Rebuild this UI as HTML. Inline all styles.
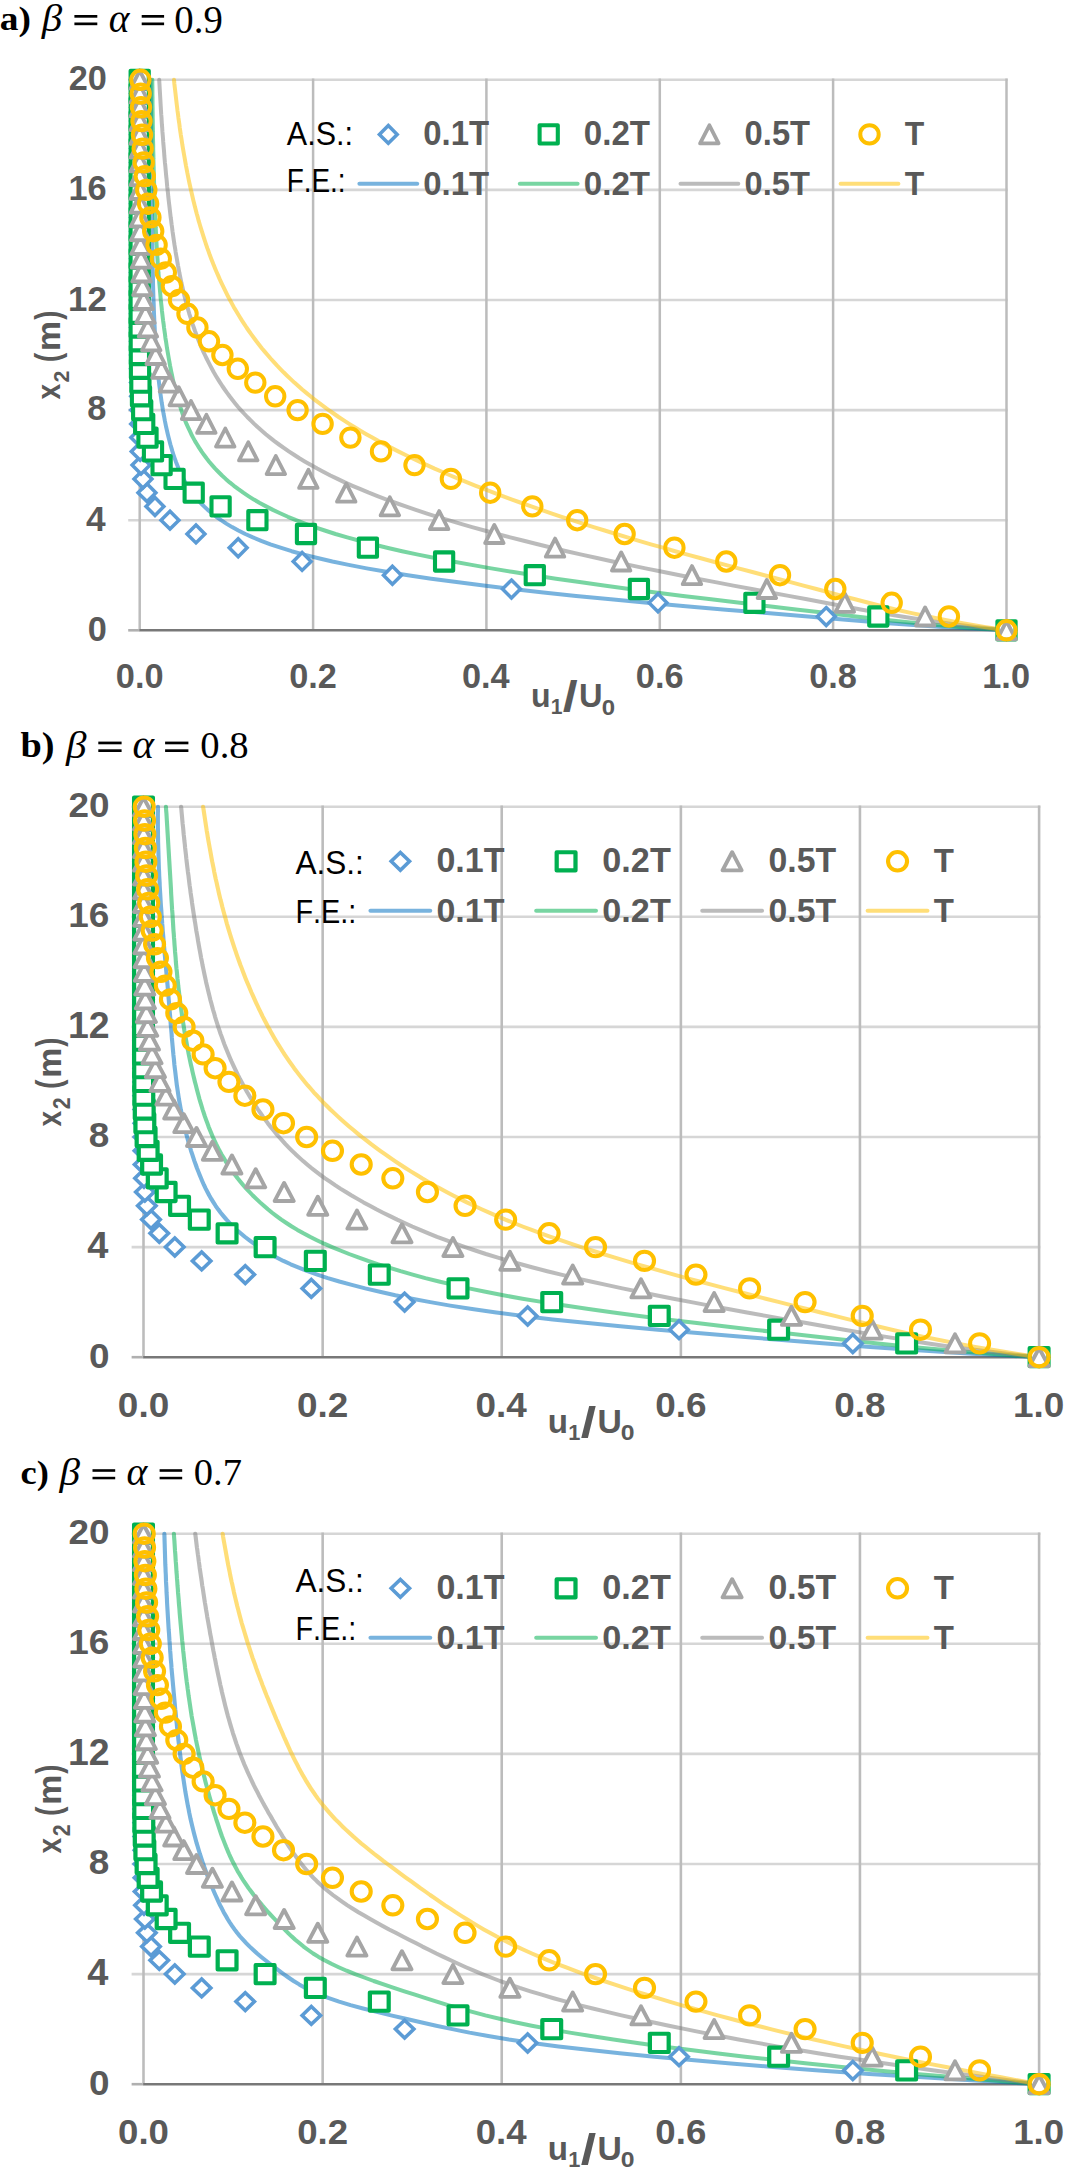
<!DOCTYPE html>
<html><head><meta charset="utf-8"><style>
html,body{margin:0;padding:0;background:#fff;}
body{width:1065px;height:2178px;overflow:hidden;}
svg{display:block;}
</style></head><body>
<svg width="1065" height="2178" viewBox="0 0 1065 2178">
<rect width="1065" height="2178" fill="#fff"/>
<g transform="translate(0.000,0.00) scale(1.00000,1)">
<line x1="128.2" y1="520.2" x2="1007.7" y2="520.2" stroke="#d6d6d6" stroke-width="2.6"/>
<line x1="128.2" y1="410.1" x2="1007.7" y2="410.1" stroke="#d6d6d6" stroke-width="2.6"/>
<line x1="128.2" y1="300.0" x2="1007.7" y2="300.0" stroke="#d6d6d6" stroke-width="2.6"/>
<line x1="128.2" y1="189.9" x2="1007.7" y2="189.9" stroke="#d6d6d6" stroke-width="2.6"/>
<line x1="128.2" y1="79.8" x2="1007.7" y2="79.8" stroke="#d6d6d6" stroke-width="2.6"/>
<line x1="128.2" y1="630.3" x2="139.7" y2="630.3" stroke="#b0b0b0" stroke-width="2.6"/>
<line x1="139.7" y1="78.5" x2="139.7" y2="630.3" stroke="#bcbcbc" stroke-width="2.5"/>
<line x1="313.1" y1="78.5" x2="313.1" y2="630.3" stroke="#bcbcbc" stroke-width="2.5"/>
<line x1="486.4" y1="78.5" x2="486.4" y2="630.3" stroke="#bcbcbc" stroke-width="2.5"/>
<line x1="659.8" y1="78.5" x2="659.8" y2="630.3" stroke="#bcbcbc" stroke-width="2.5"/>
<line x1="833.1" y1="78.5" x2="833.1" y2="630.3" stroke="#bcbcbc" stroke-width="2.5"/>
<line x1="1006.5" y1="78.5" x2="1006.5" y2="630.3" stroke="#bcbcbc" stroke-width="2.5"/>
<line x1="139.4" y1="630.3" x2="1007.7" y2="630.3" stroke="#787878" stroke-width="2.6"/>
<path d="M1006.5 630.3 L942.4 626.9 L891.9 623.4 L848.8 620.0 L808.0 616.5 L766.9 613.1 L725.9 609.7 L685.8 606.2 L647.3 602.8 L610.8 599.3 L576.1 595.9 L543.4 592.5 L512.6 589.0 L483.6 585.6 L456.5 582.1 L431.3 578.7 L407.9 575.2 L386.4 571.8 L366.7 568.4 L348.7 564.9 L332.4 561.5 L317.5 558.0 L304.0 554.6 L291.7 551.2 L280.5 547.7 L270.4 544.3 L261.2 540.8 L252.9 537.4 L245.3 534.0 L238.4 530.5 L232.1 527.1 L226.3 523.6 L221.1 520.2 L216.3 516.8 L211.9 513.3 L207.8 509.9 L204.1 506.4 L200.7 503.0 L197.6 499.6 L194.7 496.1 L192.1 492.7 L189.7 489.2 L187.4 485.8 L185.4 482.4 L183.5 478.9 L181.7 475.5 L180.1 472.0 L178.6 468.6 L177.2 465.1 L175.9 461.7 L174.7 458.3 L173.5 454.8 L172.4 451.4 L171.4 447.9 L170.4 444.5 L169.5 441.1 L168.6 437.6 L167.8 434.2 L167.0 430.7 L166.2 427.3 L165.5 423.9 L164.8 420.4 L164.2 417.0 L163.5 413.5 L162.9 410.1 L162.4 406.7 L161.8 403.2 L161.3 399.8 L160.8 396.3 L160.3 392.9 L159.9 389.5 L159.4 386.0 L159.0 382.6 L158.6 379.1 L158.3 375.7 L157.9 372.3 L157.6 368.8 L157.3 365.4 L157.0 361.9 L156.7 358.5 L156.4 355.0 L156.1 351.6 L155.9 348.2 L155.7 344.7 L155.4 341.3 L155.2 337.8 L155.0 334.4 L154.8 331.0 L154.7 327.5 L154.5 324.1 L154.3 320.6 L154.2 317.2 L154.0 313.8 L153.9 310.3 L153.8 306.9 L153.7 303.4 L153.5 300.0 L153.4 296.6 L153.3 293.1 L153.2 289.7 L153.1 286.2 L153.0 282.8 L153.0 279.4 L152.9 275.9 L152.8 272.5 L152.7 269.0 L152.7 265.6 L152.6 262.2 L152.5 258.7 L152.5 255.3 L152.4 251.8 L152.4 248.4 L152.3 244.9 L152.3 241.5 L152.3 238.1 L152.2 234.6 L152.2 231.2 L152.1 227.7 L152.1 224.3 L152.1 220.9 L152.0 217.4 L152.0 214.0 L152.0 210.5 L152.0 207.1 L151.9 203.7 L151.9 200.2 L151.9 196.8 L151.8 193.3 L151.8 189.9 L151.8 186.5 L151.8 183.0 L151.8 179.6 L151.7 176.1 L151.7 172.7 L151.7 169.3 L151.7 165.8 L151.6 162.4 L151.6 158.9 L151.6 155.5 L151.5 152.1 L151.5 148.6 L151.5 145.2 L151.4 141.7 L151.4 138.3 L151.4 134.8 L151.3 131.4 L151.3 128.0 L151.3 124.5 L151.2 121.1 L151.2 117.6 L151.1 114.2 L151.1 110.8 L151.0 107.3 L151.0 103.9 L150.9 100.4 L150.8 97.0 L150.8 93.6 L150.7 90.1 L150.6 86.7 L150.6 83.2 L150.5 79.8" fill="none" stroke="#0070c0" stroke-opacity="0.53" stroke-width="4.0" stroke-linejoin="round" stroke-linecap="round"/>
<path d="M1006.5 630.3 L959.4 626.9 L920.2 623.4 L886.4 620.0 L855.9 616.5 L826.9 613.1 L798.1 609.7 L768.9 606.2 L739.9 602.8 L711.1 599.3 L683.0 595.9 L655.7 592.5 L629.3 589.0 L603.9 585.6 L579.5 582.1 L556.0 578.7 L533.5 575.2 L511.9 571.8 L491.3 568.4 L471.6 564.9 L452.8 561.5 L434.9 558.0 L418.1 554.6 L402.1 551.2 L387.0 547.7 L372.9 544.3 L359.6 540.8 L347.2 537.4 L335.5 534.0 L324.7 530.5 L314.5 527.1 L305.0 523.6 L296.1 520.2 L287.9 516.8 L280.1 513.3 L272.9 509.9 L266.1 506.4 L259.8 503.0 L253.9 499.6 L248.4 496.1 L243.3 492.7 L238.4 489.2 L233.9 485.8 L229.7 482.4 L225.7 478.9 L222.0 475.5 L218.5 472.0 L215.2 468.6 L212.1 465.1 L209.2 461.7 L206.5 458.3 L203.9 454.8 L201.5 451.4 L199.2 447.9 L197.1 444.5 L195.0 441.1 L193.1 437.6 L191.3 434.2 L189.7 430.7 L188.1 427.3 L186.5 423.9 L185.1 420.4 L183.8 417.0 L182.5 413.5 L181.3 410.1 L180.2 406.7 L179.1 403.2 L178.1 399.8 L177.1 396.3 L176.1 392.9 L175.3 389.5 L174.4 386.0 L173.6 382.6 L172.8 379.1 L172.1 375.7 L171.4 372.3 L170.7 368.8 L170.0 365.4 L169.4 361.9 L168.8 358.5 L168.2 355.0 L167.6 351.6 L167.0 348.2 L166.5 344.7 L166.0 341.3 L165.4 337.8 L165.0 334.4 L164.5 331.0 L164.0 327.5 L163.6 324.1 L163.1 320.6 L162.7 317.2 L162.3 313.8 L161.9 310.3 L161.6 306.9 L161.2 303.4 L160.8 300.0 L160.5 296.6 L160.2 293.1 L159.9 289.7 L159.6 286.2 L159.3 282.8 L159.0 279.4 L158.7 275.9 L158.4 272.5 L158.2 269.0 L157.9 265.6 L157.7 262.2 L157.5 258.7 L157.2 255.3 L157.0 251.8 L156.8 248.4 L156.6 244.9 L156.4 241.5 L156.2 238.1 L156.1 234.6 L155.9 231.2 L155.7 227.7 L155.6 224.3 L155.4 220.9 L155.3 217.4 L155.1 214.0 L155.0 210.5 L154.8 207.1 L154.7 203.7 L154.6 200.2 L154.5 196.8 L154.4 193.3 L154.3 189.9 L154.2 186.5 L154.1 183.0 L154.0 179.6 L153.9 176.1 L153.8 172.7 L153.7 169.3 L153.6 165.8 L153.5 162.4 L153.4 158.9 L153.4 155.5 L153.3 152.1 L153.2 148.6 L153.2 145.2 L153.1 141.7 L153.0 138.3 L153.0 134.8 L152.9 131.4 L152.9 128.0 L152.8 124.5 L152.8 121.1 L152.7 117.6 L152.7 114.2 L152.6 110.8 L152.6 107.3 L152.5 103.9 L152.5 100.4 L152.5 97.0 L152.4 93.6 L152.4 90.1 L152.4 86.7 L152.3 83.2 L152.3 79.8" fill="none" stroke="#00b050" stroke-opacity="0.53" stroke-width="4.0" stroke-linejoin="round" stroke-linecap="round"/>
<path d="M1006.5 630.3 L975.7 626.9 L948.4 623.4 L923.9 620.0 L901.7 616.5 L881.2 613.1 L862.0 609.7 L843.4 606.2 L825.2 602.8 L807.0 599.3 L788.6 595.9 L770.2 592.5 L751.8 589.0 L733.4 585.6 L715.3 582.1 L697.3 578.7 L679.7 575.2 L662.4 571.8 L645.5 568.4 L628.9 564.9 L612.7 561.5 L597.0 558.0 L581.6 554.6 L566.6 551.2 L551.9 547.7 L537.7 544.3 L523.8 540.8 L510.3 537.4 L497.2 534.0 L484.5 530.5 L472.1 527.1 L460.1 523.6 L448.4 520.2 L437.2 516.8 L426.3 513.3 L415.8 509.9 L405.7 506.4 L395.9 503.0 L386.6 499.6 L377.5 496.1 L368.8 492.7 L360.5 489.2 L352.5 485.8 L344.8 482.4 L337.5 478.9 L330.4 475.5 L323.7 472.0 L317.2 468.6 L311.0 465.1 L305.1 461.7 L299.4 458.3 L294.0 454.8 L288.8 451.4 L283.8 447.9 L279.0 444.5 L274.4 441.1 L270.0 437.6 L265.8 434.2 L261.8 430.7 L257.9 427.3 L254.2 423.9 L250.7 420.4 L247.3 417.0 L244.0 413.5 L240.9 410.1 L237.9 406.7 L235.0 403.2 L232.3 399.8 L229.6 396.3 L227.1 392.9 L224.7 389.5 L222.3 386.0 L220.1 382.6 L217.9 379.1 L215.8 375.7 L213.8 372.3 L211.9 368.8 L210.1 365.4 L208.3 361.9 L206.6 358.5 L204.9 355.0 L203.3 351.6 L201.8 348.2 L200.3 344.7 L198.9 341.3 L197.6 337.8 L196.3 334.4 L195.0 331.0 L193.8 327.5 L192.6 324.1 L191.5 320.6 L190.4 317.2 L189.3 313.8 L188.3 310.3 L187.4 306.9 L186.4 303.4 L185.5 300.0 L184.6 296.6 L183.8 293.1 L183.0 289.7 L182.2 286.2 L181.4 282.8 L180.7 279.4 L180.0 275.9 L179.3 272.5 L178.7 269.0 L178.0 265.6 L177.4 262.2 L176.8 258.7 L176.2 255.3 L175.6 251.8 L175.1 248.4 L174.5 244.9 L174.0 241.5 L173.5 238.1 L173.0 234.6 L172.5 231.2 L172.1 227.7 L171.6 224.3 L171.2 220.9 L170.7 217.4 L170.3 214.0 L169.9 210.5 L169.5 207.1 L169.1 203.7 L168.7 200.2 L168.3 196.8 L168.0 193.3 L167.6 189.9 L167.2 186.5 L166.9 183.0 L166.6 179.6 L166.2 176.1 L165.9 172.7 L165.6 169.3 L165.3 165.8 L164.9 162.4 L164.6 158.9 L164.3 155.5 L164.1 152.1 L163.8 148.6 L163.5 145.2 L163.2 141.7 L163.0 138.3 L162.7 134.8 L162.4 131.4 L162.2 128.0 L161.9 124.5 L161.7 121.1 L161.5 117.6 L161.2 114.2 L161.0 110.8 L160.8 107.3 L160.6 103.9 L160.4 100.4 L160.2 97.0 L160.0 93.6 L159.8 90.1 L159.6 86.7 L159.4 83.2 L159.2 79.8" fill="none" stroke="#7f7f7f" stroke-opacity="0.53" stroke-width="4.0" stroke-linejoin="round" stroke-linecap="round"/>
<path d="M1006.5 630.3 L984.4 626.9 L964.0 623.4 L945.3 620.0 L927.9 616.5 L911.8 613.1 L896.6 609.7 L882.2 606.2 L868.5 602.8 L855.1 599.3 L842.1 595.9 L829.3 592.5 L816.4 589.0 L803.5 585.6 L790.5 582.1 L777.5 578.7 L764.4 575.2 L751.4 571.8 L738.4 568.4 L725.5 564.9 L712.7 561.5 L700.0 558.0 L687.5 554.6 L675.1 551.2 L662.9 547.7 L650.9 544.3 L639.0 540.8 L627.4 537.4 L616.0 534.0 L604.7 530.5 L593.6 527.1 L582.8 523.6 L572.1 520.2 L561.6 516.8 L551.3 513.3 L541.2 509.9 L531.3 506.4 L521.6 503.0 L512.1 499.6 L502.7 496.1 L493.5 492.7 L484.6 489.2 L475.8 485.8 L467.2 482.4 L458.7 478.9 L450.5 475.5 L442.5 472.0 L434.6 468.6 L427.0 465.1 L419.5 461.7 L412.2 458.3 L405.1 454.8 L398.2 451.4 L391.4 447.9 L384.9 444.5 L378.5 441.1 L372.3 437.6 L366.3 434.2 L360.4 430.7 L354.7 427.3 L349.2 423.9 L343.8 420.4 L338.6 417.0 L333.6 413.5 L328.7 410.1 L324.0 406.7 L319.3 403.2 L314.9 399.8 L310.5 396.3 L306.3 392.9 L302.2 389.5 L298.3 386.0 L294.4 382.6 L290.7 379.1 L287.1 375.7 L283.6 372.3 L280.2 368.8 L276.9 365.4 L273.7 361.9 L270.6 358.5 L267.6 355.0 L264.7 351.6 L261.8 348.2 L259.1 344.7 L256.4 341.3 L253.8 337.8 L251.3 334.4 L248.9 331.0 L246.5 327.5 L244.3 324.1 L242.0 320.6 L239.9 317.2 L237.8 313.8 L235.7 310.3 L233.7 306.9 L231.8 303.4 L230.0 300.0 L228.1 296.6 L226.4 293.1 L224.7 289.7 L223.0 286.2 L221.4 282.8 L219.8 279.4 L218.3 275.9 L216.8 272.5 L215.3 269.0 L213.9 265.6 L212.6 262.2 L211.2 258.7 L209.9 255.3 L208.7 251.8 L207.4 248.4 L206.2 244.9 L205.1 241.5 L204.0 238.1 L202.9 234.6 L201.8 231.2 L200.7 227.7 L199.7 224.3 L198.7 220.9 L197.8 217.4 L196.8 214.0 L195.9 210.5 L195.0 207.1 L194.2 203.7 L193.3 200.2 L192.5 196.8 L191.7 193.3 L190.9 189.9 L190.2 186.5 L189.4 183.0 L188.7 179.6 L188.0 176.1 L187.3 172.7 L186.7 169.3 L186.0 165.8 L185.4 162.4 L184.8 158.9 L184.2 155.5 L183.6 152.1 L183.0 148.6 L182.4 145.2 L181.9 141.7 L181.4 138.3 L180.8 134.8 L180.3 131.4 L179.8 128.0 L179.4 124.5 L178.9 121.1 L178.4 117.6 L178.0 114.2 L177.5 110.8 L177.1 107.3 L176.7 103.9 L176.3 100.4 L175.9 97.0 L175.5 93.6 L175.1 90.1 L174.7 86.7 L174.3 83.2 L174.0 79.8" fill="none" stroke="#ffc000" stroke-opacity="0.53" stroke-width="4.0" stroke-linejoin="round" stroke-linecap="round"/>
<path d="M1006.5 621.3L1015.5 630.3L1006.5 639.2L997.5 630.3Z" fill="#fff" stroke="#5b9bd5" stroke-width="3.5"/>
<path d="M826.2 607.6L835.2 616.5L826.2 625.5L817.3 616.5Z" fill="#fff" stroke="#5b9bd5" stroke-width="3.5"/>
<path d="M658.0 593.8L666.9 602.8L658.0 611.7L649.0 602.8Z" fill="#fff" stroke="#5b9bd5" stroke-width="3.5"/>
<path d="M511.5 580.1L520.4 589.0L511.5 598.0L502.5 589.0Z" fill="#fff" stroke="#5b9bd5" stroke-width="3.5"/>
<path d="M392.4 566.3L401.4 575.2L392.4 584.2L383.5 575.2Z" fill="#fff" stroke="#5b9bd5" stroke-width="3.5"/>
<path d="M302.1 552.5L311.1 561.5L302.1 570.4L293.2 561.5Z" fill="#fff" stroke="#5b9bd5" stroke-width="3.5"/>
<path d="M238.2 538.8L247.1 547.7L238.2 556.7L229.2 547.7Z" fill="#fff" stroke="#5b9bd5" stroke-width="3.5"/>
<path d="M196.0 525.0L204.9 534.0L196.0 542.9L187.0 534.0Z" fill="#fff" stroke="#5b9bd5" stroke-width="3.5"/>
<path d="M170.0 511.2L178.9 520.2L170.0 529.1L161.0 520.2Z" fill="#fff" stroke="#5b9bd5" stroke-width="3.5"/>
<path d="M155.0 497.5L163.9 506.4L155.0 515.4L146.0 506.4Z" fill="#fff" stroke="#5b9bd5" stroke-width="3.5"/>
<path d="M147.0 483.7L155.9 492.7L147.0 501.6L138.0 492.7Z" fill="#fff" stroke="#5b9bd5" stroke-width="3.5"/>
<path d="M142.9 470.0L151.9 478.9L142.9 487.9L134.0 478.9Z" fill="#fff" stroke="#5b9bd5" stroke-width="3.5"/>
<path d="M141.0 456.2L150.0 465.1L141.0 474.1L132.1 465.1Z" fill="#fff" stroke="#5b9bd5" stroke-width="3.5"/>
<path d="M140.2 442.4L149.2 451.4L140.2 460.3L131.3 451.4Z" fill="#fff" stroke="#5b9bd5" stroke-width="3.5"/>
<path d="M139.9 428.7L148.8 437.6L139.9 446.6L130.9 437.6Z" fill="#fff" stroke="#5b9bd5" stroke-width="3.5"/>
<path d="M139.8 414.9L148.7 423.9L139.8 432.8L130.8 423.9Z" fill="#fff" stroke="#5b9bd5" stroke-width="3.5"/>
<path d="M139.7 401.1L148.7 410.1L139.7 419.0L130.8 410.1Z" fill="#fff" stroke="#5b9bd5" stroke-width="3.5"/>
<path d="M139.7 387.4L148.7 396.3L139.7 405.3L130.8 396.3Z" fill="#fff" stroke="#5b9bd5" stroke-width="3.5"/>
<path d="M139.7 373.6L148.7 382.6L139.7 391.5L130.8 382.6Z" fill="#fff" stroke="#5b9bd5" stroke-width="3.5"/>
<path d="M139.7 359.9L148.7 368.8L139.7 377.8L130.8 368.8Z" fill="#fff" stroke="#5b9bd5" stroke-width="3.5"/>
<path d="M139.7 346.1L148.7 355.0L139.7 364.0L130.8 355.0Z" fill="#fff" stroke="#5b9bd5" stroke-width="3.5"/>
<path d="M139.7 332.3L148.7 341.3L139.7 350.2L130.8 341.3Z" fill="#fff" stroke="#5b9bd5" stroke-width="3.5"/>
<path d="M139.7 318.6L148.7 327.5L139.7 336.5L130.8 327.5Z" fill="#fff" stroke="#5b9bd5" stroke-width="3.5"/>
<path d="M139.7 304.8L148.7 313.8L139.7 322.7L130.8 313.8Z" fill="#fff" stroke="#5b9bd5" stroke-width="3.5"/>
<path d="M139.7 291.0L148.7 300.0L139.7 308.9L130.8 300.0Z" fill="#fff" stroke="#5b9bd5" stroke-width="3.5"/>
<path d="M139.7 277.3L148.7 286.2L139.7 295.2L130.8 286.2Z" fill="#fff" stroke="#5b9bd5" stroke-width="3.5"/>
<path d="M139.7 263.5L148.7 272.5L139.7 281.4L130.8 272.5Z" fill="#fff" stroke="#5b9bd5" stroke-width="3.5"/>
<path d="M139.7 249.8L148.7 258.7L139.7 267.7L130.8 258.7Z" fill="#fff" stroke="#5b9bd5" stroke-width="3.5"/>
<path d="M139.7 236.0L148.7 244.9L139.7 253.9L130.8 244.9Z" fill="#fff" stroke="#5b9bd5" stroke-width="3.5"/>
<path d="M139.7 222.2L148.7 231.2L139.7 240.1L130.8 231.2Z" fill="#fff" stroke="#5b9bd5" stroke-width="3.5"/>
<path d="M139.7 208.5L148.7 217.4L139.7 226.4L130.8 217.4Z" fill="#fff" stroke="#5b9bd5" stroke-width="3.5"/>
<path d="M139.7 194.7L148.7 203.7L139.7 212.6L130.8 203.7Z" fill="#fff" stroke="#5b9bd5" stroke-width="3.5"/>
<path d="M139.7 180.9L148.7 189.9L139.7 198.8L130.8 189.9Z" fill="#fff" stroke="#5b9bd5" stroke-width="3.5"/>
<path d="M139.7 167.2L148.6 176.1L139.7 185.1L130.8 176.1Z" fill="#fff" stroke="#5b9bd5" stroke-width="3.5"/>
<path d="M139.7 153.4L148.6 162.4L139.7 171.3L130.8 162.4Z" fill="#fff" stroke="#5b9bd5" stroke-width="3.5"/>
<path d="M139.7 139.7L148.6 148.6L139.7 157.6L130.8 148.6Z" fill="#fff" stroke="#5b9bd5" stroke-width="3.5"/>
<path d="M139.7 125.9L148.6 134.8L139.7 143.8L130.8 134.8Z" fill="#fff" stroke="#5b9bd5" stroke-width="3.5"/>
<path d="M139.7 112.1L148.6 121.1L139.7 130.0L130.8 121.1Z" fill="#fff" stroke="#5b9bd5" stroke-width="3.5"/>
<path d="M139.7 98.4L148.6 107.3L139.7 116.3L130.8 107.3Z" fill="#fff" stroke="#5b9bd5" stroke-width="3.5"/>
<path d="M139.7 84.6L148.6 93.6L139.7 102.5L130.8 93.6Z" fill="#fff" stroke="#5b9bd5" stroke-width="3.5"/>
<path d="M139.7 70.8L148.6 79.8L139.7 88.7L130.8 79.8Z" fill="#fff" stroke="#5b9bd5" stroke-width="3.5"/>
<rect x="997.4" y="621.2" width="18.2" height="18.2" fill="#fff" stroke="#00b050" stroke-width="4.1" stroke-linejoin="round"/>
<rect x="869.2" y="607.4" width="18.2" height="18.2" fill="#fff" stroke="#00b050" stroke-width="4.1" stroke-linejoin="round"/>
<rect x="745.3" y="593.7" width="18.2" height="18.2" fill="#fff" stroke="#00b050" stroke-width="4.1" stroke-linejoin="round"/>
<rect x="629.8" y="579.9" width="18.2" height="18.2" fill="#fff" stroke="#00b050" stroke-width="4.1" stroke-linejoin="round"/>
<rect x="525.7" y="566.1" width="18.2" height="18.2" fill="#fff" stroke="#00b050" stroke-width="4.1" stroke-linejoin="round"/>
<rect x="435.0" y="552.4" width="18.2" height="18.2" fill="#fff" stroke="#00b050" stroke-width="4.1" stroke-linejoin="round"/>
<rect x="358.8" y="538.6" width="18.2" height="18.2" fill="#fff" stroke="#00b050" stroke-width="4.1" stroke-linejoin="round"/>
<rect x="296.9" y="524.9" width="18.2" height="18.2" fill="#fff" stroke="#00b050" stroke-width="4.1" stroke-linejoin="round"/>
<rect x="248.3" y="511.1" width="18.2" height="18.2" fill="#fff" stroke="#00b050" stroke-width="4.1" stroke-linejoin="round"/>
<rect x="211.5" y="497.3" width="18.2" height="18.2" fill="#fff" stroke="#00b050" stroke-width="4.1" stroke-linejoin="round"/>
<rect x="184.6" y="483.6" width="18.2" height="18.2" fill="#fff" stroke="#00b050" stroke-width="4.1" stroke-linejoin="round"/>
<rect x="165.5" y="469.8" width="18.2" height="18.2" fill="#fff" stroke="#00b050" stroke-width="4.1" stroke-linejoin="round"/>
<rect x="152.5" y="456.0" width="18.2" height="18.2" fill="#fff" stroke="#00b050" stroke-width="4.1" stroke-linejoin="round"/>
<rect x="143.9" y="442.3" width="18.2" height="18.2" fill="#fff" stroke="#00b050" stroke-width="4.1" stroke-linejoin="round"/>
<rect x="138.4" y="428.5" width="18.2" height="18.2" fill="#fff" stroke="#00b050" stroke-width="4.1" stroke-linejoin="round"/>
<rect x="135.1" y="414.8" width="18.2" height="18.2" fill="#fff" stroke="#00b050" stroke-width="4.1" stroke-linejoin="round"/>
<rect x="133.1" y="401.0" width="18.2" height="18.2" fill="#fff" stroke="#00b050" stroke-width="4.1" stroke-linejoin="round"/>
<rect x="131.9" y="387.2" width="18.2" height="18.2" fill="#fff" stroke="#00b050" stroke-width="4.1" stroke-linejoin="round"/>
<rect x="131.3" y="373.5" width="18.2" height="18.2" fill="#fff" stroke="#00b050" stroke-width="4.1" stroke-linejoin="round"/>
<rect x="130.9" y="359.7" width="18.2" height="18.2" fill="#fff" stroke="#00b050" stroke-width="4.1" stroke-linejoin="round"/>
<rect x="130.8" y="345.9" width="18.2" height="18.2" fill="#fff" stroke="#00b050" stroke-width="4.1" stroke-linejoin="round"/>
<rect x="130.7" y="332.2" width="18.2" height="18.2" fill="#fff" stroke="#00b050" stroke-width="4.1" stroke-linejoin="round"/>
<rect x="130.6" y="318.4" width="18.2" height="18.2" fill="#fff" stroke="#00b050" stroke-width="4.1" stroke-linejoin="round"/>
<rect x="130.6" y="304.7" width="18.2" height="18.2" fill="#fff" stroke="#00b050" stroke-width="4.1" stroke-linejoin="round"/>
<rect x="130.6" y="290.9" width="18.2" height="18.2" fill="#fff" stroke="#00b050" stroke-width="4.1" stroke-linejoin="round"/>
<rect x="130.6" y="277.1" width="18.2" height="18.2" fill="#fff" stroke="#00b050" stroke-width="4.1" stroke-linejoin="round"/>
<rect x="130.6" y="263.4" width="18.2" height="18.2" fill="#fff" stroke="#00b050" stroke-width="4.1" stroke-linejoin="round"/>
<rect x="130.6" y="249.6" width="18.2" height="18.2" fill="#fff" stroke="#00b050" stroke-width="4.1" stroke-linejoin="round"/>
<rect x="130.6" y="235.8" width="18.2" height="18.2" fill="#fff" stroke="#00b050" stroke-width="4.1" stroke-linejoin="round"/>
<rect x="130.6" y="222.1" width="18.2" height="18.2" fill="#fff" stroke="#00b050" stroke-width="4.1" stroke-linejoin="round"/>
<rect x="130.6" y="208.3" width="18.2" height="18.2" fill="#fff" stroke="#00b050" stroke-width="4.1" stroke-linejoin="round"/>
<rect x="130.6" y="194.6" width="18.2" height="18.2" fill="#fff" stroke="#00b050" stroke-width="4.1" stroke-linejoin="round"/>
<rect x="130.6" y="180.8" width="18.2" height="18.2" fill="#fff" stroke="#00b050" stroke-width="4.1" stroke-linejoin="round"/>
<rect x="130.6" y="167.0" width="18.2" height="18.2" fill="#fff" stroke="#00b050" stroke-width="4.1" stroke-linejoin="round"/>
<rect x="130.6" y="153.3" width="18.2" height="18.2" fill="#fff" stroke="#00b050" stroke-width="4.1" stroke-linejoin="round"/>
<rect x="130.6" y="139.5" width="18.2" height="18.2" fill="#fff" stroke="#00b050" stroke-width="4.1" stroke-linejoin="round"/>
<rect x="130.6" y="125.7" width="18.2" height="18.2" fill="#fff" stroke="#00b050" stroke-width="4.1" stroke-linejoin="round"/>
<rect x="130.6" y="112.0" width="18.2" height="18.2" fill="#fff" stroke="#00b050" stroke-width="4.1" stroke-linejoin="round"/>
<rect x="130.6" y="98.2" width="18.2" height="18.2" fill="#fff" stroke="#00b050" stroke-width="4.1" stroke-linejoin="round"/>
<rect x="130.6" y="84.5" width="18.2" height="18.2" fill="#fff" stroke="#00b050" stroke-width="4.1" stroke-linejoin="round"/>
<rect x="130.6" y="70.7" width="18.2" height="18.2" fill="#fff" stroke="#00b050" stroke-width="4.1" stroke-linejoin="round"/>
<path d="M1006.5 621.2L1015.8 639.3L997.2 639.3Z" fill="#fff" stroke="#a5a5a5" stroke-width="3.8" stroke-linejoin="round"/>
<path d="M925.1 607.4L934.4 625.5L915.9 625.5Z" fill="#fff" stroke="#a5a5a5" stroke-width="3.8" stroke-linejoin="round"/>
<path d="M844.9 593.7L854.1 611.8L835.6 611.8Z" fill="#fff" stroke="#a5a5a5" stroke-width="3.8" stroke-linejoin="round"/>
<path d="M766.8 579.9L776.1 598.0L757.6 598.0Z" fill="#fff" stroke="#a5a5a5" stroke-width="3.8" stroke-linejoin="round"/>
<path d="M692.0 566.1L701.2 584.2L682.7 584.2Z" fill="#fff" stroke="#a5a5a5" stroke-width="3.8" stroke-linejoin="round"/>
<path d="M621.2 552.4L630.4 570.5L611.9 570.5Z" fill="#fff" stroke="#a5a5a5" stroke-width="3.8" stroke-linejoin="round"/>
<path d="M555.1 538.6L564.3 556.7L545.8 556.7Z" fill="#fff" stroke="#a5a5a5" stroke-width="3.8" stroke-linejoin="round"/>
<path d="M494.3 524.9L503.6 543.0L485.1 543.0Z" fill="#fff" stroke="#a5a5a5" stroke-width="3.8" stroke-linejoin="round"/>
<path d="M439.2 511.1L448.4 529.2L429.9 529.2Z" fill="#fff" stroke="#a5a5a5" stroke-width="3.8" stroke-linejoin="round"/>
<path d="M389.8 497.3L399.1 515.4L380.6 515.4Z" fill="#fff" stroke="#a5a5a5" stroke-width="3.8" stroke-linejoin="round"/>
<path d="M346.3 483.6L355.5 501.7L337.0 501.7Z" fill="#fff" stroke="#a5a5a5" stroke-width="3.8" stroke-linejoin="round"/>
<path d="M308.4 469.8L317.6 487.9L299.1 487.9Z" fill="#fff" stroke="#a5a5a5" stroke-width="3.8" stroke-linejoin="round"/>
<path d="M275.8 456.0L285.1 474.1L266.6 474.1Z" fill="#fff" stroke="#a5a5a5" stroke-width="3.8" stroke-linejoin="round"/>
<path d="M248.3 442.3L257.5 460.4L239.0 460.4Z" fill="#fff" stroke="#a5a5a5" stroke-width="3.8" stroke-linejoin="round"/>
<path d="M225.3 428.5L234.5 446.6L216.0 446.6Z" fill="#fff" stroke="#a5a5a5" stroke-width="3.8" stroke-linejoin="round"/>
<path d="M206.4 414.8L215.6 432.9L197.1 432.9Z" fill="#fff" stroke="#a5a5a5" stroke-width="3.8" stroke-linejoin="round"/>
<path d="M191.0 401.0L200.3 419.1L181.8 419.1Z" fill="#fff" stroke="#a5a5a5" stroke-width="3.8" stroke-linejoin="round"/>
<path d="M178.7 387.2L188.0 405.3L169.5 405.3Z" fill="#fff" stroke="#a5a5a5" stroke-width="3.8" stroke-linejoin="round"/>
<path d="M169.0 373.5L178.2 391.6L159.7 391.6Z" fill="#fff" stroke="#a5a5a5" stroke-width="3.8" stroke-linejoin="round"/>
<path d="M161.4 359.7L170.7 377.8L152.2 377.8Z" fill="#fff" stroke="#a5a5a5" stroke-width="3.8" stroke-linejoin="round"/>
<path d="M155.6 345.9L164.9 364.0L146.4 364.0Z" fill="#fff" stroke="#a5a5a5" stroke-width="3.8" stroke-linejoin="round"/>
<path d="M151.2 332.2L160.5 350.3L142.0 350.3Z" fill="#fff" stroke="#a5a5a5" stroke-width="3.8" stroke-linejoin="round"/>
<path d="M147.9 318.4L157.2 336.5L138.7 336.5Z" fill="#fff" stroke="#a5a5a5" stroke-width="3.8" stroke-linejoin="round"/>
<path d="M145.5 304.7L154.7 322.8L136.2 322.8Z" fill="#fff" stroke="#a5a5a5" stroke-width="3.8" stroke-linejoin="round"/>
<path d="M143.7 290.9L153.0 309.0L134.5 309.0Z" fill="#fff" stroke="#a5a5a5" stroke-width="3.8" stroke-linejoin="round"/>
<path d="M142.5 277.1L151.7 295.2L133.2 295.2Z" fill="#fff" stroke="#a5a5a5" stroke-width="3.8" stroke-linejoin="round"/>
<path d="M141.6 263.4L150.8 281.5L132.3 281.5Z" fill="#fff" stroke="#a5a5a5" stroke-width="3.8" stroke-linejoin="round"/>
<path d="M141.0 249.6L150.2 267.7L131.7 267.7Z" fill="#fff" stroke="#a5a5a5" stroke-width="3.8" stroke-linejoin="round"/>
<path d="M140.5 235.8L149.8 253.9L131.3 253.9Z" fill="#fff" stroke="#a5a5a5" stroke-width="3.8" stroke-linejoin="round"/>
<path d="M140.2 222.1L149.5 240.2L131.0 240.2Z" fill="#fff" stroke="#a5a5a5" stroke-width="3.8" stroke-linejoin="round"/>
<path d="M140.0 208.3L149.3 226.4L130.8 226.4Z" fill="#fff" stroke="#a5a5a5" stroke-width="3.8" stroke-linejoin="round"/>
<path d="M139.9 194.6L149.2 212.7L130.7 212.7Z" fill="#fff" stroke="#a5a5a5" stroke-width="3.8" stroke-linejoin="round"/>
<path d="M139.8 180.8L149.1 198.9L130.6 198.9Z" fill="#fff" stroke="#a5a5a5" stroke-width="3.8" stroke-linejoin="round"/>
<path d="M139.8 167.0L149.0 185.1L130.5 185.1Z" fill="#fff" stroke="#a5a5a5" stroke-width="3.8" stroke-linejoin="round"/>
<path d="M139.8 153.3L149.0 171.4L130.5 171.4Z" fill="#fff" stroke="#a5a5a5" stroke-width="3.8" stroke-linejoin="round"/>
<path d="M139.7 139.5L149.0 157.6L130.5 157.6Z" fill="#fff" stroke="#a5a5a5" stroke-width="3.8" stroke-linejoin="round"/>
<path d="M139.7 125.7L149.0 143.8L130.5 143.8Z" fill="#fff" stroke="#a5a5a5" stroke-width="3.8" stroke-linejoin="round"/>
<path d="M139.7 112.0L149.0 130.1L130.5 130.1Z" fill="#fff" stroke="#a5a5a5" stroke-width="3.8" stroke-linejoin="round"/>
<path d="M139.7 98.2L149.0 116.3L130.5 116.3Z" fill="#fff" stroke="#a5a5a5" stroke-width="3.8" stroke-linejoin="round"/>
<path d="M139.7 84.5L149.0 102.6L130.5 102.6Z" fill="#fff" stroke="#a5a5a5" stroke-width="3.8" stroke-linejoin="round"/>
<path d="M139.7 70.7L149.0 88.8L130.5 88.8Z" fill="#fff" stroke="#a5a5a5" stroke-width="3.8" stroke-linejoin="round"/>
<circle cx="1006.5" cy="630.3" r="9.2" fill="none" stroke="#ffc000" stroke-width="4.0"/>
<circle cx="948.9" cy="616.5" r="9.2" fill="none" stroke="#ffc000" stroke-width="4.0"/>
<circle cx="891.7" cy="602.8" r="9.2" fill="none" stroke="#ffc000" stroke-width="4.0"/>
<circle cx="835.3" cy="589.0" r="9.2" fill="none" stroke="#ffc000" stroke-width="4.0"/>
<circle cx="780.0" cy="575.2" r="9.2" fill="none" stroke="#ffc000" stroke-width="4.0"/>
<circle cx="726.3" cy="561.5" r="9.2" fill="none" stroke="#ffc000" stroke-width="4.0"/>
<circle cx="674.4" cy="547.7" r="9.2" fill="none" stroke="#ffc000" stroke-width="4.0"/>
<circle cx="624.6" cy="534.0" r="9.2" fill="none" stroke="#ffc000" stroke-width="4.0"/>
<circle cx="577.2" cy="520.2" r="9.2" fill="none" stroke="#ffc000" stroke-width="4.0"/>
<circle cx="532.3" cy="506.4" r="9.2" fill="none" stroke="#ffc000" stroke-width="4.0"/>
<circle cx="490.2" cy="492.7" r="9.2" fill="none" stroke="#ffc000" stroke-width="4.0"/>
<circle cx="450.9" cy="478.9" r="9.2" fill="none" stroke="#ffc000" stroke-width="4.0"/>
<circle cx="414.5" cy="465.1" r="9.2" fill="none" stroke="#ffc000" stroke-width="4.0"/>
<circle cx="381.0" cy="451.4" r="9.2" fill="none" stroke="#ffc000" stroke-width="4.0"/>
<circle cx="350.4" cy="437.6" r="9.2" fill="none" stroke="#ffc000" stroke-width="4.0"/>
<circle cx="322.6" cy="423.9" r="9.2" fill="none" stroke="#ffc000" stroke-width="4.0"/>
<circle cx="297.6" cy="410.1" r="9.2" fill="none" stroke="#ffc000" stroke-width="4.0"/>
<circle cx="275.2" cy="396.3" r="9.2" fill="none" stroke="#ffc000" stroke-width="4.0"/>
<circle cx="255.3" cy="382.6" r="9.2" fill="none" stroke="#ffc000" stroke-width="4.0"/>
<circle cx="237.8" cy="368.8" r="9.2" fill="none" stroke="#ffc000" stroke-width="4.0"/>
<circle cx="222.4" cy="355.0" r="9.2" fill="none" stroke="#ffc000" stroke-width="4.0"/>
<circle cx="209.0" cy="341.3" r="9.2" fill="none" stroke="#ffc000" stroke-width="4.0"/>
<circle cx="197.4" cy="327.5" r="9.2" fill="none" stroke="#ffc000" stroke-width="4.0"/>
<circle cx="187.5" cy="313.8" r="9.2" fill="none" stroke="#ffc000" stroke-width="4.0"/>
<circle cx="179.0" cy="300.0" r="9.2" fill="none" stroke="#ffc000" stroke-width="4.0"/>
<circle cx="171.9" cy="286.2" r="9.2" fill="none" stroke="#ffc000" stroke-width="4.0"/>
<circle cx="165.8" cy="272.5" r="9.2" fill="none" stroke="#ffc000" stroke-width="4.0"/>
<circle cx="160.8" cy="258.7" r="9.2" fill="none" stroke="#ffc000" stroke-width="4.0"/>
<circle cx="156.6" cy="244.9" r="9.2" fill="none" stroke="#ffc000" stroke-width="4.0"/>
<circle cx="153.2" cy="231.2" r="9.2" fill="none" stroke="#ffc000" stroke-width="4.0"/>
<circle cx="150.4" cy="217.4" r="9.2" fill="none" stroke="#ffc000" stroke-width="4.0"/>
<circle cx="148.1" cy="203.7" r="9.2" fill="none" stroke="#ffc000" stroke-width="4.0"/>
<circle cx="146.3" cy="189.9" r="9.2" fill="none" stroke="#ffc000" stroke-width="4.0"/>
<circle cx="144.8" cy="176.1" r="9.2" fill="none" stroke="#ffc000" stroke-width="4.0"/>
<circle cx="143.7" cy="162.4" r="9.2" fill="none" stroke="#ffc000" stroke-width="4.0"/>
<circle cx="142.7" cy="148.6" r="9.2" fill="none" stroke="#ffc000" stroke-width="4.0"/>
<circle cx="142.0" cy="134.8" r="9.2" fill="none" stroke="#ffc000" stroke-width="4.0"/>
<circle cx="141.5" cy="121.1" r="9.2" fill="none" stroke="#ffc000" stroke-width="4.0"/>
<circle cx="141.0" cy="107.3" r="9.2" fill="none" stroke="#ffc000" stroke-width="4.0"/>
<circle cx="140.7" cy="93.6" r="9.2" fill="none" stroke="#ffc000" stroke-width="4.0"/>
<circle cx="140.4" cy="79.8" r="9.2" fill="none" stroke="#ffc000" stroke-width="4.0"/>
<text transform="translate(115.87,688.06) scale(1.0000,1)" font-family='"Liberation Sans", sans-serif' font-weight="bold" font-style="normal" font-size="34.32" fill="#595959" style="font-kerning:none">0.0</text>
<text transform="translate(289.21,688.06) scale(1.0000,1)" font-family='"Liberation Sans", sans-serif' font-weight="bold" font-style="normal" font-size="34.32" fill="#595959" style="font-kerning:none">0.2</text>
<text transform="translate(461.98,688.06) scale(1.0000,1)" font-family='"Liberation Sans", sans-serif' font-weight="bold" font-style="normal" font-size="34.32" fill="#595959" style="font-kerning:none">0.4</text>
<text transform="translate(635.87,688.06) scale(1.0000,1)" font-family='"Liberation Sans", sans-serif' font-weight="bold" font-style="normal" font-size="34.32" fill="#595959" style="font-kerning:none">0.6</text>
<text transform="translate(809.13,688.06) scale(1.0000,1)" font-family='"Liberation Sans", sans-serif' font-weight="bold" font-style="normal" font-size="34.32" fill="#595959" style="font-kerning:none">0.8</text>
<text transform="translate(982.27,688.06) scale(1.0000,1)" font-family='"Liberation Sans", sans-serif' font-weight="bold" font-style="normal" font-size="34.32" fill="#595959" style="font-kerning:none">1.0</text>
<text transform="translate(87.72,640.66) scale(1.0000,1)" font-family='"Liberation Sans", sans-serif' font-weight="bold" font-style="normal" font-size="34.32" fill="#595959" style="font-kerning:none">0</text>
<text transform="translate(85.95,530.90) scale(1.0000,1)" font-family='"Liberation Sans", sans-serif' font-weight="bold" font-style="normal" font-size="35.32" fill="#595959" style="font-kerning:none">4</text>
<text transform="translate(87.37,420.46) scale(1.0000,1)" font-family='"Liberation Sans", sans-serif' font-weight="bold" font-style="normal" font-size="34.32" fill="#595959" style="font-kerning:none">8</text>
<text transform="translate(68.08,310.70) scale(1.0000,1)" font-family='"Liberation Sans", sans-serif' font-weight="bold" font-style="normal" font-size="34.80" fill="#595959" style="font-kerning:none">12</text>
<text transform="translate(68.46,200.26) scale(1.0000,1)" font-family='"Liberation Sans", sans-serif' font-weight="bold" font-style="normal" font-size="34.32" fill="#595959" style="font-kerning:none">16</text>
<text transform="translate(68.63,90.16) scale(1.0000,1)" font-family='"Liberation Sans", sans-serif' font-weight="bold" font-style="normal" font-size="34.32" fill="#595959" style="font-kerning:none">20</text>
<g transform="translate(0,0.0)">
<text transform="translate(530.91,706.88) scale(0.9813,1)" font-family='"Liberation Sans", sans-serif' font-weight="bold" font-style="normal" font-size="32.71" fill="#595959" style="font-kerning:none">u</text>
<text transform="translate(550.67,714.40) scale(0.9659,1)" font-family='"Liberation Sans", sans-serif' font-weight="bold" font-style="normal" font-size="21.80" fill="#595959" style="font-kerning:none">1</text>
<text transform="translate(562.87,710.95) scale(1.2721,1)" font-family='"Liberation Sans", sans-serif' font-weight="bold" font-style="normal" font-size="42.30" fill="#595959" style="font-kerning:none">/</text>
<text transform="translate(579.04,706.87) scale(0.9560,1)" font-family='"Liberation Sans", sans-serif' font-weight="bold" font-style="normal" font-size="34.11" fill="#595959" style="font-kerning:none">U</text>
<text transform="translate(601.65,714.69) scale(1.0949,1)" font-family='"Liberation Sans", sans-serif' font-weight="bold" font-style="normal" font-size="21.89" fill="#595959" style="font-kerning:none">0</text>
</g>
<g transform="translate(60.1,399.3) rotate(-90)">
<text transform="translate(-0.19,0.00) scale(0.8614,1)" font-family='"Liberation Sans", sans-serif' font-weight="bold" font-style="normal" font-size="32.56" fill="#595959" style="font-kerning:none">x</text>
<text transform="translate(16.86,8.70) scale(0.9515,1)" font-family='"Liberation Sans", sans-serif' font-weight="bold" font-style="normal" font-size="22.49" fill="#595959" style="font-kerning:none">2</text>
<text transform="translate(37.09,-0.39) scale(0.8180,1)" font-family='"Liberation Sans", sans-serif' font-weight="bold" font-style="normal" font-size="34.65" fill="#595959" style="font-kerning:none">(</text>
<text transform="translate(48.37,0.00) scale(1.0390,1)" font-family='"Liberation Sans", sans-serif' font-weight="bold" font-style="normal" font-size="32.49" fill="#595959" style="font-kerning:none">m</text>
<text transform="translate(79.47,-0.39) scale(0.7873,1)" font-family='"Liberation Sans", sans-serif' font-weight="bold" font-style="normal" font-size="34.65" fill="#595959" style="font-kerning:none">)</text>
</g>
<path d="M388.3 125.5L397.2 134.4L388.3 143.3L379.4 134.4Z" fill="#fff" stroke="#5b9bd5" stroke-width="3.5"/>
<line x1="359.4" y1="183.8" x2="417.2" y2="183.8" stroke="#0070c0" stroke-opacity="0.53" stroke-width="4.0" stroke-linecap="round"/>
<text transform="translate(423.20,145.26) scale(0.9472,1)" font-family='"Liberation Sans", sans-serif' font-weight="bold" font-style="normal" font-size="34.75" fill="#595959" style="font-kerning:none">0.1T</text>
<text transform="translate(423.20,194.97) scale(0.9669,1)" font-family='"Liberation Sans", sans-serif' font-weight="bold" font-style="normal" font-size="34.04" fill="#595959" style="font-kerning:none">0.1T</text>
<rect x="539.6" y="125.3" width="18.2" height="18.2" fill="#fff" stroke="#00b050" stroke-width="4.1" stroke-linejoin="round"/>
<line x1="519.8" y1="183.8" x2="577.6" y2="183.8" stroke="#00b050" stroke-opacity="0.53" stroke-width="4.0" stroke-linecap="round"/>
<text transform="translate(583.79,145.26) scale(0.9531,1)" font-family='"Liberation Sans", sans-serif' font-weight="bold" font-style="normal" font-size="34.75" fill="#595959" style="font-kerning:none">0.2T</text>
<text transform="translate(583.79,194.97) scale(0.9729,1)" font-family='"Liberation Sans", sans-serif' font-weight="bold" font-style="normal" font-size="34.04" fill="#595959" style="font-kerning:none">0.2T</text>
<path d="M709.4 125.3L718.6 143.4L700.1 143.4Z" fill="#fff" stroke="#a5a5a5" stroke-width="3.8" stroke-linejoin="round"/>
<line x1="680.5" y1="183.8" x2="738.3" y2="183.8" stroke="#7f7f7f" stroke-opacity="0.53" stroke-width="4.0" stroke-linecap="round"/>
<text transform="translate(744.61,145.26) scale(0.9413,1)" font-family='"Liberation Sans", sans-serif' font-weight="bold" font-style="normal" font-size="34.75" fill="#595959" style="font-kerning:none">0.5T</text>
<text transform="translate(744.61,194.97) scale(0.9608,1)" font-family='"Liberation Sans", sans-serif' font-weight="bold" font-style="normal" font-size="34.04" fill="#595959" style="font-kerning:none">0.5T</text>
<circle cx="869.5" cy="134.4" r="9.2" fill="none" stroke="#ffc000" stroke-width="4.0"/>
<line x1="840.6" y1="183.8" x2="898.4" y2="183.8" stroke="#ffc000" stroke-opacity="0.53" stroke-width="4.0" stroke-linecap="round"/>
<text transform="translate(904.64,144.90) scale(0.9550,1)" font-family='"Liberation Sans", sans-serif' font-weight="bold" font-style="normal" font-size="33.43" fill="#595959" style="font-kerning:none">T</text>
<text transform="translate(904.64,194.90) scale(0.9550,1)" font-family='"Liberation Sans", sans-serif' font-weight="bold" font-style="normal" font-size="33.43" fill="#595959" style="font-kerning:none">T</text>
<text transform="translate(286.84,145.38) scale(0.9435,1)" font-family='"Liberation Sans", sans-serif' font-weight="normal" font-style="normal" font-size="32.34" fill="#000" style="font-kerning:none">A.S.:</text>
<text transform="translate(286.71,191.50) scale(0.8536,1)" font-family='"Liberation Sans", sans-serif' font-weight="normal" font-style="normal" font-size="32.70" fill="#000" style="font-kerning:none">F.E.:</text>
</g>
<g transform="translate(-0.842,726.90) scale(1.03323,1)">
<line x1="128.2" y1="520.2" x2="1007.7" y2="520.2" stroke="#d6d6d6" stroke-width="2.6"/>
<line x1="128.2" y1="410.1" x2="1007.7" y2="410.1" stroke="#d6d6d6" stroke-width="2.6"/>
<line x1="128.2" y1="300.0" x2="1007.7" y2="300.0" stroke="#d6d6d6" stroke-width="2.6"/>
<line x1="128.2" y1="189.9" x2="1007.7" y2="189.9" stroke="#d6d6d6" stroke-width="2.6"/>
<line x1="128.2" y1="79.8" x2="1007.7" y2="79.8" stroke="#d6d6d6" stroke-width="2.6"/>
<line x1="128.2" y1="630.3" x2="139.7" y2="630.3" stroke="#b0b0b0" stroke-width="2.6"/>
<line x1="139.7" y1="78.5" x2="139.7" y2="630.3" stroke="#bcbcbc" stroke-width="2.5"/>
<line x1="313.1" y1="78.5" x2="313.1" y2="630.3" stroke="#bcbcbc" stroke-width="2.5"/>
<line x1="486.4" y1="78.5" x2="486.4" y2="630.3" stroke="#bcbcbc" stroke-width="2.5"/>
<line x1="659.8" y1="78.5" x2="659.8" y2="630.3" stroke="#bcbcbc" stroke-width="2.5"/>
<line x1="833.1" y1="78.5" x2="833.1" y2="630.3" stroke="#bcbcbc" stroke-width="2.5"/>
<line x1="1006.5" y1="78.5" x2="1006.5" y2="630.3" stroke="#bcbcbc" stroke-width="2.5"/>
<line x1="139.4" y1="630.3" x2="1007.7" y2="630.3" stroke="#787878" stroke-width="2.6"/>
<path d="M1006.5 630.3 L941.6 626.9 L888.9 623.4 L843.0 620.0 L800.0 616.5 L757.6 613.1 L716.1 609.7 L676.0 606.2 L637.6 602.8 L601.2 599.3 L567.2 595.9 L535.8 592.5 L507.1 589.0 L481.1 585.6 L457.7 582.1 L436.6 578.7 L417.3 575.2 L399.7 571.8 L383.4 568.4 L368.4 564.9 L354.3 561.5 L341.3 558.0 L329.2 554.6 L318.1 551.2 L307.9 547.7 L298.5 544.3 L290.0 540.8 L282.2 537.4 L275.1 534.0 L268.5 530.5 L262.4 527.1 L256.8 523.6 L251.5 520.2 L246.6 516.8 L242.0 513.3 L237.7 509.9 L233.7 506.4 L229.9 503.0 L226.4 499.6 L223.1 496.1 L220.0 492.7 L217.1 489.2 L214.4 485.8 L211.9 482.4 L209.5 478.9 L207.4 475.5 L205.3 472.0 L203.4 468.6 L201.6 465.1 L199.9 461.7 L198.3 458.3 L196.8 454.8 L195.4 451.4 L194.0 447.9 L192.7 444.5 L191.4 441.1 L190.2 437.6 L189.0 434.2 L187.9 430.7 L186.8 427.3 L185.7 423.9 L184.7 420.4 L183.7 417.0 L182.8 413.5 L181.9 410.1 L181.0 406.7 L180.2 403.2 L179.4 399.8 L178.6 396.3 L177.9 392.9 L177.2 389.5 L176.5 386.0 L175.8 382.6 L175.2 379.1 L174.6 375.7 L174.0 372.3 L173.5 368.8 L173.0 365.4 L172.5 361.9 L172.0 358.5 L171.6 355.0 L171.2 351.6 L170.8 348.2 L170.4 344.7 L170.0 341.3 L169.6 337.8 L169.3 334.4 L169.0 331.0 L168.6 327.5 L168.3 324.1 L168.0 320.6 L167.7 317.2 L167.4 313.8 L167.1 310.3 L166.9 306.9 L166.6 303.4 L166.3 300.0 L166.0 296.6 L165.8 293.1 L165.5 289.7 L165.2 286.2 L164.9 282.8 L164.7 279.4 L164.4 275.9 L164.1 272.5 L163.8 269.0 L163.5 265.6 L163.3 262.2 L163.0 258.7 L162.7 255.3 L162.4 251.8 L162.1 248.4 L161.8 244.9 L161.5 241.5 L161.2 238.1 L160.9 234.6 L160.6 231.2 L160.3 227.7 L160.0 224.3 L159.7 220.9 L159.4 217.4 L159.1 214.0 L158.9 210.5 L158.6 207.1 L158.3 203.7 L158.1 200.2 L157.8 196.8 L157.6 193.3 L157.3 189.9 L157.1 186.5 L156.9 183.0 L156.6 179.6 L156.4 176.1 L156.2 172.7 L156.0 169.3 L155.8 165.8 L155.6 162.4 L155.4 158.9 L155.3 155.5 L155.1 152.1 L154.9 148.6 L154.8 145.2 L154.6 141.7 L154.5 138.3 L154.4 134.8 L154.3 131.4 L154.2 128.0 L154.1 124.5 L154.0 121.1 L153.9 117.6 L153.8 114.2 L153.8 110.8 L153.7 107.3 L153.7 103.9 L153.6 100.4 L153.6 97.0 L153.6 93.6 L153.6 90.1 L153.6 86.7 L153.7 83.2 L153.7 79.8" fill="none" stroke="#0070c0" stroke-opacity="0.53" stroke-width="4.0" stroke-linejoin="round" stroke-linecap="round"/>
<path d="M1006.5 630.3 L959.1 626.9 L918.6 623.4 L883.0 620.0 L850.5 616.5 L819.8 613.1 L789.6 609.7 L759.7 606.2 L730.2 602.8 L701.4 599.3 L673.2 595.9 L646.0 592.5 L619.7 589.0 L594.5 585.6 L570.5 582.1 L547.8 578.7 L526.5 575.2 L506.5 571.8 L487.9 568.4 L470.7 564.9 L454.6 561.5 L439.7 558.0 L425.7 554.6 L412.5 551.2 L400.2 547.7 L388.5 544.3 L377.5 540.8 L367.0 537.4 L357.1 534.0 L347.6 530.5 L338.7 527.1 L330.2 523.6 L322.2 520.2 L314.6 516.8 L307.5 513.3 L300.8 509.9 L294.5 506.4 L288.7 503.0 L283.2 499.6 L278.0 496.1 L273.1 492.7 L268.5 489.2 L264.2 485.8 L260.1 482.4 L256.2 478.9 L252.5 475.5 L248.9 472.0 L245.5 468.6 L242.3 465.1 L239.2 461.7 L236.3 458.3 L233.5 454.8 L230.8 451.4 L228.2 447.9 L225.8 444.5 L223.4 441.1 L221.2 437.6 L219.1 434.2 L217.1 430.7 L215.1 427.3 L213.3 423.9 L211.6 420.4 L209.9 417.0 L208.3 413.5 L206.8 410.1 L205.4 406.7 L204.0 403.2 L202.7 399.8 L201.5 396.3 L200.3 392.9 L199.1 389.5 L198.0 386.0 L196.9 382.6 L195.9 379.1 L194.9 375.7 L193.9 372.3 L193.0 368.8 L192.1 365.4 L191.2 361.9 L190.4 358.5 L189.5 355.0 L188.7 351.6 L187.9 348.2 L187.1 344.7 L186.4 341.3 L185.6 337.8 L184.9 334.4 L184.2 331.0 L183.5 327.5 L182.9 324.1 L182.2 320.6 L181.6 317.2 L181.0 313.8 L180.4 310.3 L179.8 306.9 L179.2 303.4 L178.7 300.0 L178.2 296.6 L177.6 293.1 L177.1 289.7 L176.7 286.2 L176.2 282.8 L175.7 279.4 L175.3 275.9 L174.9 272.5 L174.5 269.0 L174.1 265.6 L173.7 262.2 L173.3 258.7 L173.0 255.3 L172.6 251.8 L172.3 248.4 L172.0 244.9 L171.6 241.5 L171.3 238.1 L171.0 234.6 L170.8 231.2 L170.5 227.7 L170.2 224.3 L170.0 220.9 L169.7 217.4 L169.5 214.0 L169.2 210.5 L169.0 207.1 L168.7 203.7 L168.5 200.2 L168.3 196.8 L168.1 193.3 L167.9 189.9 L167.7 186.5 L167.4 183.0 L167.2 179.6 L167.0 176.1 L166.8 172.7 L166.6 169.3 L166.4 165.8 L166.3 162.4 L166.1 158.9 L165.9 155.5 L165.7 152.1 L165.5 148.6 L165.3 145.2 L165.1 141.7 L164.9 138.3 L164.7 134.8 L164.5 131.4 L164.3 128.0 L164.1 124.5 L163.9 121.1 L163.7 117.6 L163.5 114.2 L163.3 110.8 L163.1 107.3 L162.9 103.9 L162.7 100.4 L162.5 97.0 L162.3 93.6 L162.1 90.1 L161.9 86.7 L161.6 83.2 L161.4 79.8" fill="none" stroke="#00b050" stroke-opacity="0.53" stroke-width="4.0" stroke-linejoin="round" stroke-linecap="round"/>
<path d="M1006.5 630.3 L975.6 626.9 L947.8 623.4 L922.5 620.0 L899.3 616.5 L877.6 613.1 L857.0 609.7 L837.3 606.2 L818.0 602.8 L798.9 599.3 L779.9 595.9 L761.0 592.5 L742.3 589.0 L723.8 585.6 L705.5 582.1 L687.6 578.7 L669.9 575.2 L652.6 571.8 L635.7 568.4 L619.2 564.9 L603.2 561.5 L587.6 558.0 L572.5 554.6 L558.0 551.2 L543.9 547.7 L530.4 544.3 L517.4 540.8 L505.0 537.4 L493.2 534.0 L481.9 530.5 L471.1 527.1 L460.8 523.6 L451.0 520.2 L441.5 516.8 L432.5 513.3 L423.8 509.9 L415.5 506.4 L407.5 503.0 L399.8 499.6 L392.4 496.1 L385.2 492.7 L378.3 489.2 L371.5 485.8 L365.0 482.4 L358.8 478.9 L352.7 475.5 L346.8 472.0 L341.1 468.6 L335.6 465.1 L330.2 461.7 L325.1 458.3 L320.2 454.8 L315.4 451.4 L310.8 447.9 L306.4 444.5 L302.2 441.1 L298.1 437.6 L294.2 434.2 L290.5 430.7 L286.9 427.3 L283.5 423.9 L280.1 420.4 L276.9 417.0 L273.9 413.5 L270.9 410.1 L268.0 406.7 L265.3 403.2 L262.6 399.8 L260.0 396.3 L257.6 392.9 L255.1 389.5 L252.8 386.0 L250.5 382.6 L248.3 379.1 L246.2 375.7 L244.1 372.3 L242.1 368.8 L240.1 365.4 L238.2 361.9 L236.4 358.5 L234.6 355.0 L232.8 351.6 L231.1 348.2 L229.5 344.7 L227.9 341.3 L226.3 337.8 L224.8 334.4 L223.4 331.0 L222.0 327.5 L220.6 324.1 L219.2 320.6 L217.9 317.2 L216.7 313.8 L215.5 310.3 L214.3 306.9 L213.2 303.4 L212.0 300.0 L211.0 296.6 L209.9 293.1 L208.9 289.7 L208.0 286.2 L207.0 282.8 L206.1 279.4 L205.2 275.9 L204.3 272.5 L203.5 269.0 L202.7 265.6 L201.9 262.2 L201.1 258.7 L200.3 255.3 L199.6 251.8 L198.9 248.4 L198.2 244.9 L197.5 241.5 L196.8 238.1 L196.2 234.6 L195.5 231.2 L194.9 227.7 L194.3 224.3 L193.7 220.9 L193.1 217.4 L192.5 214.0 L192.0 210.5 L191.4 207.1 L190.8 203.7 L190.3 200.2 L189.8 196.8 L189.2 193.3 L188.7 189.9 L188.2 186.5 L187.7 183.0 L187.2 179.6 L186.7 176.1 L186.3 172.7 L185.8 169.3 L185.3 165.8 L184.9 162.4 L184.4 158.9 L184.0 155.5 L183.6 152.1 L183.2 148.6 L182.7 145.2 L182.3 141.7 L181.9 138.3 L181.5 134.8 L181.1 131.4 L180.8 128.0 L180.4 124.5 L180.0 121.1 L179.7 117.6 L179.3 114.2 L179.0 110.8 L178.6 107.3 L178.3 103.9 L178.0 100.4 L177.6 97.0 L177.3 93.6 L177.0 90.1 L176.7 86.7 L176.4 83.2 L176.1 79.8" fill="none" stroke="#7f7f7f" stroke-opacity="0.53" stroke-width="4.0" stroke-linejoin="round" stroke-linecap="round"/>
<path d="M1006.5 630.3 L984.3 626.9 L963.8 623.4 L944.6 620.0 L926.7 616.5 L909.9 613.1 L893.9 609.7 L878.6 606.2 L864.0 602.8 L849.8 599.3 L835.9 595.9 L822.2 592.5 L808.7 589.0 L795.2 585.6 L781.8 582.1 L768.4 578.7 L755.1 575.2 L741.9 571.8 L728.8 568.4 L715.8 564.9 L703.0 561.5 L690.2 558.0 L677.7 554.6 L665.3 551.2 L653.1 547.7 L641.1 544.3 L629.3 540.8 L617.7 537.4 L606.4 534.0 L595.2 530.5 L584.3 527.1 L573.7 523.6 L563.3 520.2 L553.2 516.8 L543.3 513.3 L533.7 509.9 L524.4 506.4 L515.4 503.0 L506.6 499.6 L498.1 496.1 L489.9 492.7 L482.0 489.2 L474.3 485.8 L466.9 482.4 L459.7 478.9 L452.7 475.5 L445.9 472.0 L439.4 468.6 L433.0 465.1 L426.8 461.7 L420.8 458.3 L415.0 454.8 L409.3 451.4 L403.8 447.9 L398.4 444.5 L393.2 441.1 L388.0 437.6 L383.1 434.2 L378.2 430.7 L373.4 427.3 L368.8 423.9 L364.2 420.4 L359.7 417.0 L355.4 413.5 L351.1 410.1 L347.0 406.7 L342.9 403.2 L339.0 399.8 L335.1 396.3 L331.3 392.9 L327.7 389.5 L324.1 386.0 L320.6 382.6 L317.2 379.1 L313.9 375.7 L310.7 372.3 L307.6 368.8 L304.5 365.4 L301.6 361.9 L298.7 358.5 L295.9 355.0 L293.2 351.6 L290.6 348.2 L288.0 344.7 L285.5 341.3 L283.1 337.8 L280.8 334.4 L278.5 331.0 L276.2 327.5 L274.1 324.1 L272.0 320.6 L269.9 317.2 L267.9 313.8 L265.9 310.3 L264.0 306.9 L262.2 303.4 L260.3 300.0 L258.6 296.6 L256.8 293.1 L255.1 289.7 L253.5 286.2 L251.8 282.8 L250.3 279.4 L248.7 275.9 L247.2 272.5 L245.7 269.0 L244.2 265.6 L242.8 262.2 L241.4 258.7 L240.0 255.3 L238.6 251.8 L237.3 248.4 L236.0 244.9 L234.8 241.5 L233.5 238.1 L232.3 234.6 L231.1 231.2 L229.9 227.7 L228.8 224.3 L227.7 220.9 L226.6 217.4 L225.5 214.0 L224.4 210.5 L223.4 207.1 L222.4 203.7 L221.4 200.2 L220.4 196.8 L219.5 193.3 L218.6 189.9 L217.7 186.5 L216.8 183.0 L215.9 179.6 L215.1 176.1 L214.2 172.7 L213.4 169.3 L212.6 165.8 L211.9 162.4 L211.1 158.9 L210.4 155.5 L209.6 152.1 L208.9 148.6 L208.2 145.2 L207.6 141.7 L206.9 138.3 L206.2 134.8 L205.6 131.4 L205.0 128.0 L204.4 124.5 L203.8 121.1 L203.2 117.6 L202.6 114.2 L202.0 110.8 L201.5 107.3 L200.9 103.9 L200.4 100.4 L199.9 97.0 L199.4 93.6 L198.9 90.1 L198.4 86.7 L197.9 83.2 L197.4 79.8" fill="none" stroke="#ffc000" stroke-opacity="0.53" stroke-width="4.0" stroke-linejoin="round" stroke-linecap="round"/>
<path d="M1006.5 621.3L1015.5 630.3L1006.5 639.2L997.5 630.3Z" fill="#fff" stroke="#5b9bd5" stroke-width="3.5"/>
<path d="M826.2 607.6L835.2 616.5L826.2 625.5L817.3 616.5Z" fill="#fff" stroke="#5b9bd5" stroke-width="3.5"/>
<path d="M658.0 593.8L666.9 602.8L658.0 611.7L649.0 602.8Z" fill="#fff" stroke="#5b9bd5" stroke-width="3.5"/>
<path d="M511.5 580.1L520.4 589.0L511.5 598.0L502.5 589.0Z" fill="#fff" stroke="#5b9bd5" stroke-width="3.5"/>
<path d="M392.4 566.3L401.4 575.2L392.4 584.2L383.5 575.2Z" fill="#fff" stroke="#5b9bd5" stroke-width="3.5"/>
<path d="M302.1 552.5L311.1 561.5L302.1 570.4L293.2 561.5Z" fill="#fff" stroke="#5b9bd5" stroke-width="3.5"/>
<path d="M238.2 538.8L247.1 547.7L238.2 556.7L229.2 547.7Z" fill="#fff" stroke="#5b9bd5" stroke-width="3.5"/>
<path d="M196.0 525.0L204.9 534.0L196.0 542.9L187.0 534.0Z" fill="#fff" stroke="#5b9bd5" stroke-width="3.5"/>
<path d="M170.0 511.2L178.9 520.2L170.0 529.1L161.0 520.2Z" fill="#fff" stroke="#5b9bd5" stroke-width="3.5"/>
<path d="M155.0 497.5L163.9 506.4L155.0 515.4L146.0 506.4Z" fill="#fff" stroke="#5b9bd5" stroke-width="3.5"/>
<path d="M147.0 483.7L155.9 492.7L147.0 501.6L138.0 492.7Z" fill="#fff" stroke="#5b9bd5" stroke-width="3.5"/>
<path d="M142.9 470.0L151.9 478.9L142.9 487.9L134.0 478.9Z" fill="#fff" stroke="#5b9bd5" stroke-width="3.5"/>
<path d="M141.0 456.2L150.0 465.1L141.0 474.1L132.1 465.1Z" fill="#fff" stroke="#5b9bd5" stroke-width="3.5"/>
<path d="M140.2 442.4L149.2 451.4L140.2 460.3L131.3 451.4Z" fill="#fff" stroke="#5b9bd5" stroke-width="3.5"/>
<path d="M139.9 428.7L148.8 437.6L139.9 446.6L130.9 437.6Z" fill="#fff" stroke="#5b9bd5" stroke-width="3.5"/>
<path d="M139.8 414.9L148.7 423.9L139.8 432.8L130.8 423.9Z" fill="#fff" stroke="#5b9bd5" stroke-width="3.5"/>
<path d="M139.7 401.1L148.7 410.1L139.7 419.0L130.8 410.1Z" fill="#fff" stroke="#5b9bd5" stroke-width="3.5"/>
<path d="M139.7 387.4L148.7 396.3L139.7 405.3L130.8 396.3Z" fill="#fff" stroke="#5b9bd5" stroke-width="3.5"/>
<path d="M139.7 373.6L148.7 382.6L139.7 391.5L130.8 382.6Z" fill="#fff" stroke="#5b9bd5" stroke-width="3.5"/>
<path d="M139.7 359.9L148.7 368.8L139.7 377.8L130.8 368.8Z" fill="#fff" stroke="#5b9bd5" stroke-width="3.5"/>
<path d="M139.7 346.1L148.7 355.0L139.7 364.0L130.8 355.0Z" fill="#fff" stroke="#5b9bd5" stroke-width="3.5"/>
<path d="M139.7 332.3L148.7 341.3L139.7 350.2L130.8 341.3Z" fill="#fff" stroke="#5b9bd5" stroke-width="3.5"/>
<path d="M139.7 318.6L148.7 327.5L139.7 336.5L130.8 327.5Z" fill="#fff" stroke="#5b9bd5" stroke-width="3.5"/>
<path d="M139.7 304.8L148.7 313.8L139.7 322.7L130.8 313.8Z" fill="#fff" stroke="#5b9bd5" stroke-width="3.5"/>
<path d="M139.7 291.0L148.7 300.0L139.7 308.9L130.8 300.0Z" fill="#fff" stroke="#5b9bd5" stroke-width="3.5"/>
<path d="M139.7 277.3L148.7 286.2L139.7 295.2L130.8 286.2Z" fill="#fff" stroke="#5b9bd5" stroke-width="3.5"/>
<path d="M139.7 263.5L148.7 272.5L139.7 281.4L130.8 272.5Z" fill="#fff" stroke="#5b9bd5" stroke-width="3.5"/>
<path d="M139.7 249.8L148.7 258.7L139.7 267.7L130.8 258.7Z" fill="#fff" stroke="#5b9bd5" stroke-width="3.5"/>
<path d="M139.7 236.0L148.7 244.9L139.7 253.9L130.8 244.9Z" fill="#fff" stroke="#5b9bd5" stroke-width="3.5"/>
<path d="M139.7 222.2L148.7 231.2L139.7 240.1L130.8 231.2Z" fill="#fff" stroke="#5b9bd5" stroke-width="3.5"/>
<path d="M139.7 208.5L148.7 217.4L139.7 226.4L130.8 217.4Z" fill="#fff" stroke="#5b9bd5" stroke-width="3.5"/>
<path d="M139.7 194.7L148.7 203.7L139.7 212.6L130.8 203.7Z" fill="#fff" stroke="#5b9bd5" stroke-width="3.5"/>
<path d="M139.7 180.9L148.7 189.9L139.7 198.8L130.8 189.9Z" fill="#fff" stroke="#5b9bd5" stroke-width="3.5"/>
<path d="M139.7 167.2L148.6 176.1L139.7 185.1L130.8 176.1Z" fill="#fff" stroke="#5b9bd5" stroke-width="3.5"/>
<path d="M139.7 153.4L148.6 162.4L139.7 171.3L130.8 162.4Z" fill="#fff" stroke="#5b9bd5" stroke-width="3.5"/>
<path d="M139.7 139.7L148.6 148.6L139.7 157.6L130.8 148.6Z" fill="#fff" stroke="#5b9bd5" stroke-width="3.5"/>
<path d="M139.7 125.9L148.6 134.8L139.7 143.8L130.8 134.8Z" fill="#fff" stroke="#5b9bd5" stroke-width="3.5"/>
<path d="M139.7 112.1L148.6 121.1L139.7 130.0L130.8 121.1Z" fill="#fff" stroke="#5b9bd5" stroke-width="3.5"/>
<path d="M139.7 98.4L148.6 107.3L139.7 116.3L130.8 107.3Z" fill="#fff" stroke="#5b9bd5" stroke-width="3.5"/>
<path d="M139.7 84.6L148.6 93.6L139.7 102.5L130.8 93.6Z" fill="#fff" stroke="#5b9bd5" stroke-width="3.5"/>
<path d="M139.7 70.8L148.6 79.8L139.7 88.7L130.8 79.8Z" fill="#fff" stroke="#5b9bd5" stroke-width="3.5"/>
<rect x="997.4" y="621.2" width="18.2" height="18.2" fill="#fff" stroke="#00b050" stroke-width="4.1" stroke-linejoin="round"/>
<rect x="869.2" y="607.4" width="18.2" height="18.2" fill="#fff" stroke="#00b050" stroke-width="4.1" stroke-linejoin="round"/>
<rect x="745.3" y="593.7" width="18.2" height="18.2" fill="#fff" stroke="#00b050" stroke-width="4.1" stroke-linejoin="round"/>
<rect x="629.8" y="579.9" width="18.2" height="18.2" fill="#fff" stroke="#00b050" stroke-width="4.1" stroke-linejoin="round"/>
<rect x="525.7" y="566.1" width="18.2" height="18.2" fill="#fff" stroke="#00b050" stroke-width="4.1" stroke-linejoin="round"/>
<rect x="435.0" y="552.4" width="18.2" height="18.2" fill="#fff" stroke="#00b050" stroke-width="4.1" stroke-linejoin="round"/>
<rect x="358.8" y="538.6" width="18.2" height="18.2" fill="#fff" stroke="#00b050" stroke-width="4.1" stroke-linejoin="round"/>
<rect x="296.9" y="524.9" width="18.2" height="18.2" fill="#fff" stroke="#00b050" stroke-width="4.1" stroke-linejoin="round"/>
<rect x="248.3" y="511.1" width="18.2" height="18.2" fill="#fff" stroke="#00b050" stroke-width="4.1" stroke-linejoin="round"/>
<rect x="211.5" y="497.3" width="18.2" height="18.2" fill="#fff" stroke="#00b050" stroke-width="4.1" stroke-linejoin="round"/>
<rect x="184.6" y="483.6" width="18.2" height="18.2" fill="#fff" stroke="#00b050" stroke-width="4.1" stroke-linejoin="round"/>
<rect x="165.5" y="469.8" width="18.2" height="18.2" fill="#fff" stroke="#00b050" stroke-width="4.1" stroke-linejoin="round"/>
<rect x="152.5" y="456.0" width="18.2" height="18.2" fill="#fff" stroke="#00b050" stroke-width="4.1" stroke-linejoin="round"/>
<rect x="143.9" y="442.3" width="18.2" height="18.2" fill="#fff" stroke="#00b050" stroke-width="4.1" stroke-linejoin="round"/>
<rect x="138.4" y="428.5" width="18.2" height="18.2" fill="#fff" stroke="#00b050" stroke-width="4.1" stroke-linejoin="round"/>
<rect x="135.1" y="414.8" width="18.2" height="18.2" fill="#fff" stroke="#00b050" stroke-width="4.1" stroke-linejoin="round"/>
<rect x="133.1" y="401.0" width="18.2" height="18.2" fill="#fff" stroke="#00b050" stroke-width="4.1" stroke-linejoin="round"/>
<rect x="131.9" y="387.2" width="18.2" height="18.2" fill="#fff" stroke="#00b050" stroke-width="4.1" stroke-linejoin="round"/>
<rect x="131.3" y="373.5" width="18.2" height="18.2" fill="#fff" stroke="#00b050" stroke-width="4.1" stroke-linejoin="round"/>
<rect x="130.9" y="359.7" width="18.2" height="18.2" fill="#fff" stroke="#00b050" stroke-width="4.1" stroke-linejoin="round"/>
<rect x="130.8" y="345.9" width="18.2" height="18.2" fill="#fff" stroke="#00b050" stroke-width="4.1" stroke-linejoin="round"/>
<rect x="130.7" y="332.2" width="18.2" height="18.2" fill="#fff" stroke="#00b050" stroke-width="4.1" stroke-linejoin="round"/>
<rect x="130.6" y="318.4" width="18.2" height="18.2" fill="#fff" stroke="#00b050" stroke-width="4.1" stroke-linejoin="round"/>
<rect x="130.6" y="304.7" width="18.2" height="18.2" fill="#fff" stroke="#00b050" stroke-width="4.1" stroke-linejoin="round"/>
<rect x="130.6" y="290.9" width="18.2" height="18.2" fill="#fff" stroke="#00b050" stroke-width="4.1" stroke-linejoin="round"/>
<rect x="130.6" y="277.1" width="18.2" height="18.2" fill="#fff" stroke="#00b050" stroke-width="4.1" stroke-linejoin="round"/>
<rect x="130.6" y="263.4" width="18.2" height="18.2" fill="#fff" stroke="#00b050" stroke-width="4.1" stroke-linejoin="round"/>
<rect x="130.6" y="249.6" width="18.2" height="18.2" fill="#fff" stroke="#00b050" stroke-width="4.1" stroke-linejoin="round"/>
<rect x="130.6" y="235.8" width="18.2" height="18.2" fill="#fff" stroke="#00b050" stroke-width="4.1" stroke-linejoin="round"/>
<rect x="130.6" y="222.1" width="18.2" height="18.2" fill="#fff" stroke="#00b050" stroke-width="4.1" stroke-linejoin="round"/>
<rect x="130.6" y="208.3" width="18.2" height="18.2" fill="#fff" stroke="#00b050" stroke-width="4.1" stroke-linejoin="round"/>
<rect x="130.6" y="194.6" width="18.2" height="18.2" fill="#fff" stroke="#00b050" stroke-width="4.1" stroke-linejoin="round"/>
<rect x="130.6" y="180.8" width="18.2" height="18.2" fill="#fff" stroke="#00b050" stroke-width="4.1" stroke-linejoin="round"/>
<rect x="130.6" y="167.0" width="18.2" height="18.2" fill="#fff" stroke="#00b050" stroke-width="4.1" stroke-linejoin="round"/>
<rect x="130.6" y="153.3" width="18.2" height="18.2" fill="#fff" stroke="#00b050" stroke-width="4.1" stroke-linejoin="round"/>
<rect x="130.6" y="139.5" width="18.2" height="18.2" fill="#fff" stroke="#00b050" stroke-width="4.1" stroke-linejoin="round"/>
<rect x="130.6" y="125.7" width="18.2" height="18.2" fill="#fff" stroke="#00b050" stroke-width="4.1" stroke-linejoin="round"/>
<rect x="130.6" y="112.0" width="18.2" height="18.2" fill="#fff" stroke="#00b050" stroke-width="4.1" stroke-linejoin="round"/>
<rect x="130.6" y="98.2" width="18.2" height="18.2" fill="#fff" stroke="#00b050" stroke-width="4.1" stroke-linejoin="round"/>
<rect x="130.6" y="84.5" width="18.2" height="18.2" fill="#fff" stroke="#00b050" stroke-width="4.1" stroke-linejoin="round"/>
<rect x="130.6" y="70.7" width="18.2" height="18.2" fill="#fff" stroke="#00b050" stroke-width="4.1" stroke-linejoin="round"/>
<path d="M1006.5 621.2L1015.8 639.3L997.2 639.3Z" fill="#fff" stroke="#a5a5a5" stroke-width="3.8" stroke-linejoin="round"/>
<path d="M925.1 607.4L934.4 625.5L915.9 625.5Z" fill="#fff" stroke="#a5a5a5" stroke-width="3.8" stroke-linejoin="round"/>
<path d="M844.9 593.7L854.1 611.8L835.6 611.8Z" fill="#fff" stroke="#a5a5a5" stroke-width="3.8" stroke-linejoin="round"/>
<path d="M766.8 579.9L776.1 598.0L757.6 598.0Z" fill="#fff" stroke="#a5a5a5" stroke-width="3.8" stroke-linejoin="round"/>
<path d="M692.0 566.1L701.2 584.2L682.7 584.2Z" fill="#fff" stroke="#a5a5a5" stroke-width="3.8" stroke-linejoin="round"/>
<path d="M621.2 552.4L630.4 570.5L611.9 570.5Z" fill="#fff" stroke="#a5a5a5" stroke-width="3.8" stroke-linejoin="round"/>
<path d="M555.1 538.6L564.3 556.7L545.8 556.7Z" fill="#fff" stroke="#a5a5a5" stroke-width="3.8" stroke-linejoin="round"/>
<path d="M494.3 524.9L503.6 543.0L485.1 543.0Z" fill="#fff" stroke="#a5a5a5" stroke-width="3.8" stroke-linejoin="round"/>
<path d="M439.2 511.1L448.4 529.2L429.9 529.2Z" fill="#fff" stroke="#a5a5a5" stroke-width="3.8" stroke-linejoin="round"/>
<path d="M389.8 497.3L399.1 515.4L380.6 515.4Z" fill="#fff" stroke="#a5a5a5" stroke-width="3.8" stroke-linejoin="round"/>
<path d="M346.3 483.6L355.5 501.7L337.0 501.7Z" fill="#fff" stroke="#a5a5a5" stroke-width="3.8" stroke-linejoin="round"/>
<path d="M308.4 469.8L317.6 487.9L299.1 487.9Z" fill="#fff" stroke="#a5a5a5" stroke-width="3.8" stroke-linejoin="round"/>
<path d="M275.8 456.0L285.1 474.1L266.6 474.1Z" fill="#fff" stroke="#a5a5a5" stroke-width="3.8" stroke-linejoin="round"/>
<path d="M248.3 442.3L257.5 460.4L239.0 460.4Z" fill="#fff" stroke="#a5a5a5" stroke-width="3.8" stroke-linejoin="round"/>
<path d="M225.3 428.5L234.5 446.6L216.0 446.6Z" fill="#fff" stroke="#a5a5a5" stroke-width="3.8" stroke-linejoin="round"/>
<path d="M206.4 414.8L215.6 432.9L197.1 432.9Z" fill="#fff" stroke="#a5a5a5" stroke-width="3.8" stroke-linejoin="round"/>
<path d="M191.0 401.0L200.3 419.1L181.8 419.1Z" fill="#fff" stroke="#a5a5a5" stroke-width="3.8" stroke-linejoin="round"/>
<path d="M178.7 387.2L188.0 405.3L169.5 405.3Z" fill="#fff" stroke="#a5a5a5" stroke-width="3.8" stroke-linejoin="round"/>
<path d="M169.0 373.5L178.2 391.6L159.7 391.6Z" fill="#fff" stroke="#a5a5a5" stroke-width="3.8" stroke-linejoin="round"/>
<path d="M161.4 359.7L170.7 377.8L152.2 377.8Z" fill="#fff" stroke="#a5a5a5" stroke-width="3.8" stroke-linejoin="round"/>
<path d="M155.6 345.9L164.9 364.0L146.4 364.0Z" fill="#fff" stroke="#a5a5a5" stroke-width="3.8" stroke-linejoin="round"/>
<path d="M151.2 332.2L160.5 350.3L142.0 350.3Z" fill="#fff" stroke="#a5a5a5" stroke-width="3.8" stroke-linejoin="round"/>
<path d="M147.9 318.4L157.2 336.5L138.7 336.5Z" fill="#fff" stroke="#a5a5a5" stroke-width="3.8" stroke-linejoin="round"/>
<path d="M145.5 304.7L154.7 322.8L136.2 322.8Z" fill="#fff" stroke="#a5a5a5" stroke-width="3.8" stroke-linejoin="round"/>
<path d="M143.7 290.9L153.0 309.0L134.5 309.0Z" fill="#fff" stroke="#a5a5a5" stroke-width="3.8" stroke-linejoin="round"/>
<path d="M142.5 277.1L151.7 295.2L133.2 295.2Z" fill="#fff" stroke="#a5a5a5" stroke-width="3.8" stroke-linejoin="round"/>
<path d="M141.6 263.4L150.8 281.5L132.3 281.5Z" fill="#fff" stroke="#a5a5a5" stroke-width="3.8" stroke-linejoin="round"/>
<path d="M141.0 249.6L150.2 267.7L131.7 267.7Z" fill="#fff" stroke="#a5a5a5" stroke-width="3.8" stroke-linejoin="round"/>
<path d="M140.5 235.8L149.8 253.9L131.3 253.9Z" fill="#fff" stroke="#a5a5a5" stroke-width="3.8" stroke-linejoin="round"/>
<path d="M140.2 222.1L149.5 240.2L131.0 240.2Z" fill="#fff" stroke="#a5a5a5" stroke-width="3.8" stroke-linejoin="round"/>
<path d="M140.0 208.3L149.3 226.4L130.8 226.4Z" fill="#fff" stroke="#a5a5a5" stroke-width="3.8" stroke-linejoin="round"/>
<path d="M139.9 194.6L149.2 212.7L130.7 212.7Z" fill="#fff" stroke="#a5a5a5" stroke-width="3.8" stroke-linejoin="round"/>
<path d="M139.8 180.8L149.1 198.9L130.6 198.9Z" fill="#fff" stroke="#a5a5a5" stroke-width="3.8" stroke-linejoin="round"/>
<path d="M139.8 167.0L149.0 185.1L130.5 185.1Z" fill="#fff" stroke="#a5a5a5" stroke-width="3.8" stroke-linejoin="round"/>
<path d="M139.8 153.3L149.0 171.4L130.5 171.4Z" fill="#fff" stroke="#a5a5a5" stroke-width="3.8" stroke-linejoin="round"/>
<path d="M139.7 139.5L149.0 157.6L130.5 157.6Z" fill="#fff" stroke="#a5a5a5" stroke-width="3.8" stroke-linejoin="round"/>
<path d="M139.7 125.7L149.0 143.8L130.5 143.8Z" fill="#fff" stroke="#a5a5a5" stroke-width="3.8" stroke-linejoin="round"/>
<path d="M139.7 112.0L149.0 130.1L130.5 130.1Z" fill="#fff" stroke="#a5a5a5" stroke-width="3.8" stroke-linejoin="round"/>
<path d="M139.7 98.2L149.0 116.3L130.5 116.3Z" fill="#fff" stroke="#a5a5a5" stroke-width="3.8" stroke-linejoin="round"/>
<path d="M139.7 84.5L149.0 102.6L130.5 102.6Z" fill="#fff" stroke="#a5a5a5" stroke-width="3.8" stroke-linejoin="round"/>
<path d="M139.7 70.7L149.0 88.8L130.5 88.8Z" fill="#fff" stroke="#a5a5a5" stroke-width="3.8" stroke-linejoin="round"/>
<circle cx="1006.5" cy="630.3" r="9.2" fill="none" stroke="#ffc000" stroke-width="4.0"/>
<circle cx="948.9" cy="616.5" r="9.2" fill="none" stroke="#ffc000" stroke-width="4.0"/>
<circle cx="891.7" cy="602.8" r="9.2" fill="none" stroke="#ffc000" stroke-width="4.0"/>
<circle cx="835.3" cy="589.0" r="9.2" fill="none" stroke="#ffc000" stroke-width="4.0"/>
<circle cx="780.0" cy="575.2" r="9.2" fill="none" stroke="#ffc000" stroke-width="4.0"/>
<circle cx="726.3" cy="561.5" r="9.2" fill="none" stroke="#ffc000" stroke-width="4.0"/>
<circle cx="674.4" cy="547.7" r="9.2" fill="none" stroke="#ffc000" stroke-width="4.0"/>
<circle cx="624.6" cy="534.0" r="9.2" fill="none" stroke="#ffc000" stroke-width="4.0"/>
<circle cx="577.2" cy="520.2" r="9.2" fill="none" stroke="#ffc000" stroke-width="4.0"/>
<circle cx="532.3" cy="506.4" r="9.2" fill="none" stroke="#ffc000" stroke-width="4.0"/>
<circle cx="490.2" cy="492.7" r="9.2" fill="none" stroke="#ffc000" stroke-width="4.0"/>
<circle cx="450.9" cy="478.9" r="9.2" fill="none" stroke="#ffc000" stroke-width="4.0"/>
<circle cx="414.5" cy="465.1" r="9.2" fill="none" stroke="#ffc000" stroke-width="4.0"/>
<circle cx="381.0" cy="451.4" r="9.2" fill="none" stroke="#ffc000" stroke-width="4.0"/>
<circle cx="350.4" cy="437.6" r="9.2" fill="none" stroke="#ffc000" stroke-width="4.0"/>
<circle cx="322.6" cy="423.9" r="9.2" fill="none" stroke="#ffc000" stroke-width="4.0"/>
<circle cx="297.6" cy="410.1" r="9.2" fill="none" stroke="#ffc000" stroke-width="4.0"/>
<circle cx="275.2" cy="396.3" r="9.2" fill="none" stroke="#ffc000" stroke-width="4.0"/>
<circle cx="255.3" cy="382.6" r="9.2" fill="none" stroke="#ffc000" stroke-width="4.0"/>
<circle cx="237.8" cy="368.8" r="9.2" fill="none" stroke="#ffc000" stroke-width="4.0"/>
<circle cx="222.4" cy="355.0" r="9.2" fill="none" stroke="#ffc000" stroke-width="4.0"/>
<circle cx="209.0" cy="341.3" r="9.2" fill="none" stroke="#ffc000" stroke-width="4.0"/>
<circle cx="197.4" cy="327.5" r="9.2" fill="none" stroke="#ffc000" stroke-width="4.0"/>
<circle cx="187.5" cy="313.8" r="9.2" fill="none" stroke="#ffc000" stroke-width="4.0"/>
<circle cx="179.0" cy="300.0" r="9.2" fill="none" stroke="#ffc000" stroke-width="4.0"/>
<circle cx="171.9" cy="286.2" r="9.2" fill="none" stroke="#ffc000" stroke-width="4.0"/>
<circle cx="165.8" cy="272.5" r="9.2" fill="none" stroke="#ffc000" stroke-width="4.0"/>
<circle cx="160.8" cy="258.7" r="9.2" fill="none" stroke="#ffc000" stroke-width="4.0"/>
<circle cx="156.6" cy="244.9" r="9.2" fill="none" stroke="#ffc000" stroke-width="4.0"/>
<circle cx="153.2" cy="231.2" r="9.2" fill="none" stroke="#ffc000" stroke-width="4.0"/>
<circle cx="150.4" cy="217.4" r="9.2" fill="none" stroke="#ffc000" stroke-width="4.0"/>
<circle cx="148.1" cy="203.7" r="9.2" fill="none" stroke="#ffc000" stroke-width="4.0"/>
<circle cx="146.3" cy="189.9" r="9.2" fill="none" stroke="#ffc000" stroke-width="4.0"/>
<circle cx="144.8" cy="176.1" r="9.2" fill="none" stroke="#ffc000" stroke-width="4.0"/>
<circle cx="143.7" cy="162.4" r="9.2" fill="none" stroke="#ffc000" stroke-width="4.0"/>
<circle cx="142.7" cy="148.6" r="9.2" fill="none" stroke="#ffc000" stroke-width="4.0"/>
<circle cx="142.0" cy="134.8" r="9.2" fill="none" stroke="#ffc000" stroke-width="4.0"/>
<circle cx="141.5" cy="121.1" r="9.2" fill="none" stroke="#ffc000" stroke-width="4.0"/>
<circle cx="141.0" cy="107.3" r="9.2" fill="none" stroke="#ffc000" stroke-width="4.0"/>
<circle cx="140.7" cy="93.6" r="9.2" fill="none" stroke="#ffc000" stroke-width="4.0"/>
<circle cx="140.4" cy="79.8" r="9.2" fill="none" stroke="#ffc000" stroke-width="4.0"/>
<text transform="translate(114.89,690.45) scale(1.0000,1)" font-family='"Liberation Sans", sans-serif' font-weight="bold" font-style="normal" font-size="35.73" fill="#595959" style="font-kerning:none">0.0</text>
<text transform="translate(288.23,690.45) scale(1.0000,1)" font-family='"Liberation Sans", sans-serif' font-weight="bold" font-style="normal" font-size="35.73" fill="#595959" style="font-kerning:none">0.2</text>
<text transform="translate(460.97,690.45) scale(1.0000,1)" font-family='"Liberation Sans", sans-serif' font-weight="bold" font-style="normal" font-size="35.73" fill="#595959" style="font-kerning:none">0.4</text>
<text transform="translate(634.88,690.45) scale(1.0000,1)" font-family='"Liberation Sans", sans-serif' font-weight="bold" font-style="normal" font-size="35.73" fill="#595959" style="font-kerning:none">0.6</text>
<text transform="translate(808.15,690.45) scale(1.0000,1)" font-family='"Liberation Sans", sans-serif' font-weight="bold" font-style="normal" font-size="35.73" fill="#595959" style="font-kerning:none">0.8</text>
<text transform="translate(981.27,690.45) scale(1.0000,1)" font-family='"Liberation Sans", sans-serif' font-weight="bold" font-style="normal" font-size="35.73" fill="#595959" style="font-kerning:none">1.0</text>
<text transform="translate(86.99,640.65) scale(1.0000,1)" font-family='"Liberation Sans", sans-serif' font-weight="bold" font-style="normal" font-size="35.73" fill="#595959" style="font-kerning:none">0</text>
<text transform="translate(85.15,530.90) scale(1.0000,1)" font-family='"Liberation Sans", sans-serif' font-weight="bold" font-style="normal" font-size="36.77" fill="#595959" style="font-kerning:none">4</text>
<text transform="translate(86.63,420.45) scale(1.0000,1)" font-family='"Liberation Sans", sans-serif' font-weight="bold" font-style="normal" font-size="35.73" fill="#595959" style="font-kerning:none">8</text>
<text transform="translate(66.55,310.70) scale(1.0000,1)" font-family='"Liberation Sans", sans-serif' font-weight="bold" font-style="normal" font-size="36.23" fill="#595959" style="font-kerning:none">12</text>
<text transform="translate(66.94,200.25) scale(1.0000,1)" font-family='"Liberation Sans", sans-serif' font-weight="bold" font-style="normal" font-size="35.73" fill="#595959" style="font-kerning:none">16</text>
<text transform="translate(67.12,90.15) scale(1.0000,1)" font-family='"Liberation Sans", sans-serif' font-weight="bold" font-style="normal" font-size="35.73" fill="#595959" style="font-kerning:none">20</text>
<g transform="translate(0,-1.1)">
<text transform="translate(530.91,706.88) scale(0.9813,1)" font-family='"Liberation Sans", sans-serif' font-weight="bold" font-style="normal" font-size="32.71" fill="#595959" style="font-kerning:none">u</text>
<text transform="translate(550.67,714.40) scale(0.9659,1)" font-family='"Liberation Sans", sans-serif' font-weight="bold" font-style="normal" font-size="21.80" fill="#595959" style="font-kerning:none">1</text>
<text transform="translate(562.87,710.95) scale(1.2721,1)" font-family='"Liberation Sans", sans-serif' font-weight="bold" font-style="normal" font-size="42.30" fill="#595959" style="font-kerning:none">/</text>
<text transform="translate(579.04,706.87) scale(0.9560,1)" font-family='"Liberation Sans", sans-serif' font-weight="bold" font-style="normal" font-size="34.11" fill="#595959" style="font-kerning:none">U</text>
<text transform="translate(601.65,714.69) scale(1.0949,1)" font-family='"Liberation Sans", sans-serif' font-weight="bold" font-style="normal" font-size="21.89" fill="#595959" style="font-kerning:none">0</text>
</g>
<g transform="translate(60.1,399.3) rotate(-90)">
<text transform="translate(-0.19,0.00) scale(0.8614,1)" font-family='"Liberation Sans", sans-serif' font-weight="bold" font-style="normal" font-size="32.56" fill="#595959" style="font-kerning:none">x</text>
<text transform="translate(16.86,8.70) scale(0.9515,1)" font-family='"Liberation Sans", sans-serif' font-weight="bold" font-style="normal" font-size="22.49" fill="#595959" style="font-kerning:none">2</text>
<text transform="translate(37.09,-0.39) scale(0.8180,1)" font-family='"Liberation Sans", sans-serif' font-weight="bold" font-style="normal" font-size="34.65" fill="#595959" style="font-kerning:none">(</text>
<text transform="translate(48.37,0.00) scale(1.0390,1)" font-family='"Liberation Sans", sans-serif' font-weight="bold" font-style="normal" font-size="32.49" fill="#595959" style="font-kerning:none">m</text>
<text transform="translate(79.47,-0.39) scale(0.7873,1)" font-family='"Liberation Sans", sans-serif' font-weight="bold" font-style="normal" font-size="34.65" fill="#595959" style="font-kerning:none">)</text>
</g>
<path d="M388.3 125.5L397.2 134.4L388.3 143.3L379.4 134.4Z" fill="#fff" stroke="#5b9bd5" stroke-width="3.5"/>
<line x1="359.4" y1="183.8" x2="417.2" y2="183.8" stroke="#0070c0" stroke-opacity="0.53" stroke-width="4.0" stroke-linecap="round"/>
<text transform="translate(423.20,145.26) scale(0.9472,1)" font-family='"Liberation Sans", sans-serif' font-weight="bold" font-style="normal" font-size="34.75" fill="#595959" style="font-kerning:none">0.1T</text>
<text transform="translate(423.20,194.97) scale(0.9669,1)" font-family='"Liberation Sans", sans-serif' font-weight="bold" font-style="normal" font-size="34.04" fill="#595959" style="font-kerning:none">0.1T</text>
<rect x="539.6" y="125.3" width="18.2" height="18.2" fill="#fff" stroke="#00b050" stroke-width="4.1" stroke-linejoin="round"/>
<line x1="519.8" y1="183.8" x2="577.6" y2="183.8" stroke="#00b050" stroke-opacity="0.53" stroke-width="4.0" stroke-linecap="round"/>
<text transform="translate(583.79,145.26) scale(0.9531,1)" font-family='"Liberation Sans", sans-serif' font-weight="bold" font-style="normal" font-size="34.75" fill="#595959" style="font-kerning:none">0.2T</text>
<text transform="translate(583.79,194.97) scale(0.9729,1)" font-family='"Liberation Sans", sans-serif' font-weight="bold" font-style="normal" font-size="34.04" fill="#595959" style="font-kerning:none">0.2T</text>
<path d="M709.4 125.3L718.6 143.4L700.1 143.4Z" fill="#fff" stroke="#a5a5a5" stroke-width="3.8" stroke-linejoin="round"/>
<line x1="680.5" y1="183.8" x2="738.3" y2="183.8" stroke="#7f7f7f" stroke-opacity="0.53" stroke-width="4.0" stroke-linecap="round"/>
<text transform="translate(744.61,145.26) scale(0.9413,1)" font-family='"Liberation Sans", sans-serif' font-weight="bold" font-style="normal" font-size="34.75" fill="#595959" style="font-kerning:none">0.5T</text>
<text transform="translate(744.61,194.97) scale(0.9608,1)" font-family='"Liberation Sans", sans-serif' font-weight="bold" font-style="normal" font-size="34.04" fill="#595959" style="font-kerning:none">0.5T</text>
<circle cx="869.5" cy="134.4" r="9.2" fill="none" stroke="#ffc000" stroke-width="4.0"/>
<line x1="840.6" y1="183.8" x2="898.4" y2="183.8" stroke="#ffc000" stroke-opacity="0.53" stroke-width="4.0" stroke-linecap="round"/>
<text transform="translate(904.64,144.90) scale(0.9550,1)" font-family='"Liberation Sans", sans-serif' font-weight="bold" font-style="normal" font-size="33.43" fill="#595959" style="font-kerning:none">T</text>
<text transform="translate(904.64,194.90) scale(0.9550,1)" font-family='"Liberation Sans", sans-serif' font-weight="bold" font-style="normal" font-size="33.43" fill="#595959" style="font-kerning:none">T</text>
<text transform="translate(286.84,147.48) scale(0.9234,1)" font-family='"Liberation Sans", sans-serif' font-weight="normal" font-style="normal" font-size="33.05" fill="#000" style="font-kerning:none">A.S.:</text>
<text transform="translate(286.71,195.70) scale(0.8243,1)" font-family='"Liberation Sans", sans-serif' font-weight="normal" font-style="normal" font-size="33.87" fill="#000" style="font-kerning:none">F.E.:</text>
</g>
<g transform="translate(-0.842,1453.90) scale(1.03323,1)">
<line x1="128.2" y1="520.2" x2="1007.7" y2="520.2" stroke="#d6d6d6" stroke-width="2.6"/>
<line x1="128.2" y1="410.1" x2="1007.7" y2="410.1" stroke="#d6d6d6" stroke-width="2.6"/>
<line x1="128.2" y1="300.0" x2="1007.7" y2="300.0" stroke="#d6d6d6" stroke-width="2.6"/>
<line x1="128.2" y1="189.9" x2="1007.7" y2="189.9" stroke="#d6d6d6" stroke-width="2.6"/>
<line x1="128.2" y1="79.8" x2="1007.7" y2="79.8" stroke="#d6d6d6" stroke-width="2.6"/>
<line x1="128.2" y1="630.3" x2="139.7" y2="630.3" stroke="#b0b0b0" stroke-width="2.6"/>
<line x1="139.7" y1="78.5" x2="139.7" y2="630.3" stroke="#bcbcbc" stroke-width="2.5"/>
<line x1="313.1" y1="78.5" x2="313.1" y2="630.3" stroke="#bcbcbc" stroke-width="2.5"/>
<line x1="486.4" y1="78.5" x2="486.4" y2="630.3" stroke="#bcbcbc" stroke-width="2.5"/>
<line x1="659.8" y1="78.5" x2="659.8" y2="630.3" stroke="#bcbcbc" stroke-width="2.5"/>
<line x1="833.1" y1="78.5" x2="833.1" y2="630.3" stroke="#bcbcbc" stroke-width="2.5"/>
<line x1="1006.5" y1="78.5" x2="1006.5" y2="630.3" stroke="#bcbcbc" stroke-width="2.5"/>
<line x1="139.4" y1="630.3" x2="1007.7" y2="630.3" stroke="#787878" stroke-width="2.6"/>
<path d="M1006.5 630.3 L948.8 626.9 L893.7 623.4 L841.8 620.0 L793.6 616.5 L749.2 613.1 L708.2 609.7 L670.0 606.2 L634.2 602.8 L600.6 599.3 L569.7 595.9 L541.4 592.5 L516.0 589.0 L493.3 585.6 L473.3 582.1 L455.2 578.7 L438.6 575.2 L423.0 571.8 L408.1 568.4 L393.5 564.9 L379.2 561.5 L365.4 558.0 L352.2 554.6 L340.1 551.2 L329.0 547.7 L319.1 544.3 L310.5 540.8 L303.0 537.4 L296.4 534.0 L290.4 530.5 L285.0 527.1 L280.0 523.6 L275.3 520.2 L270.8 516.8 L266.3 513.3 L262.0 509.9 L257.7 506.4 L253.7 503.0 L249.7 499.6 L246.0 496.1 L242.5 492.7 L239.1 489.2 L236.0 485.8 L233.0 482.4 L230.3 478.9 L227.8 475.5 L225.4 472.0 L223.2 468.6 L221.1 465.1 L219.2 461.7 L217.3 458.3 L215.6 454.8 L213.9 451.4 L212.3 447.9 L210.8 444.5 L209.3 441.1 L207.8 437.6 L206.4 434.2 L205.0 430.7 L203.7 427.3 L202.4 423.9 L201.1 420.4 L199.9 417.0 L198.7 413.5 L197.5 410.1 L196.4 406.7 L195.3 403.2 L194.2 399.8 L193.2 396.3 L192.2 392.9 L191.2 389.5 L190.3 386.0 L189.4 382.6 L188.5 379.1 L187.7 375.7 L186.9 372.3 L186.1 368.8 L185.3 365.4 L184.6 361.9 L183.9 358.5 L183.3 355.0 L182.6 351.6 L182.0 348.2 L181.4 344.7 L180.8 341.3 L180.2 337.8 L179.7 334.4 L179.2 331.0 L178.7 327.5 L178.2 324.1 L177.7 320.6 L177.2 317.2 L176.8 313.8 L176.3 310.3 L175.9 306.9 L175.5 303.4 L175.1 300.0 L174.7 296.6 L174.3 293.1 L173.9 289.7 L173.5 286.2 L173.2 282.8 L172.8 279.4 L172.5 275.9 L172.1 272.5 L171.8 269.0 L171.4 265.6 L171.1 262.2 L170.8 258.7 L170.4 255.3 L170.1 251.8 L169.8 248.4 L169.5 244.9 L169.2 241.5 L168.9 238.1 L168.6 234.6 L168.3 231.2 L168.0 227.7 L167.7 224.3 L167.4 220.9 L167.1 217.4 L166.8 214.0 L166.6 210.5 L166.3 207.1 L166.0 203.7 L165.8 200.2 L165.5 196.8 L165.3 193.3 L165.1 189.9 L164.8 186.5 L164.6 183.0 L164.4 179.6 L164.1 176.1 L163.9 172.7 L163.7 169.3 L163.5 165.8 L163.3 162.4 L163.1 158.9 L162.9 155.5 L162.7 152.1 L162.5 148.6 L162.4 145.2 L162.2 141.7 L162.0 138.3 L161.9 134.8 L161.7 131.4 L161.5 128.0 L161.4 124.5 L161.3 121.1 L161.1 117.6 L161.0 114.2 L160.8 110.8 L160.7 107.3 L160.6 103.9 L160.5 100.4 L160.4 97.0 L160.3 93.6 L160.2 90.1 L160.1 86.7 L160.0 83.2 L159.9 79.8" fill="none" stroke="#0070c0" stroke-opacity="0.53" stroke-width="4.0" stroke-linejoin="round" stroke-linecap="round"/>
<path d="M1006.5 630.3 L965.5 626.9 L925.7 623.4 L887.2 620.0 L850.4 616.5 L815.5 613.1 L782.5 609.7 L751.4 606.2 L722.0 602.8 L694.0 599.3 L667.4 595.9 L641.9 592.5 L617.6 589.0 L594.5 585.6 L572.7 582.1 L552.2 578.7 L533.1 575.2 L515.5 571.8 L499.2 568.4 L484.3 564.9 L470.6 561.5 L457.9 558.0 L445.8 554.6 L434.4 551.2 L423.5 547.7 L412.8 544.3 L402.4 540.8 L392.2 537.4 L382.0 534.0 L372.1 530.5 L362.5 527.1 L353.3 523.6 L344.5 520.2 L336.3 516.8 L328.6 513.3 L321.5 509.9 L315.0 506.4 L309.2 503.0 L303.9 499.6 L299.1 496.1 L294.6 492.7 L290.5 489.2 L286.6 485.8 L283.0 482.4 L279.5 478.9 L276.2 475.5 L272.9 472.0 L269.7 468.6 L266.6 465.1 L263.5 461.7 L260.4 458.3 L257.5 454.8 L254.6 451.4 L251.8 447.9 L249.0 444.5 L246.4 441.1 L243.9 437.6 L241.4 434.2 L239.1 430.7 L236.8 427.3 L234.7 423.9 L232.7 420.4 L230.7 417.0 L228.9 413.5 L227.2 410.1 L225.5 406.7 L223.9 403.2 L222.4 399.8 L221.0 396.3 L219.6 392.9 L218.3 389.5 L217.0 386.0 L215.7 382.6 L214.5 379.1 L213.4 375.7 L212.3 372.3 L211.2 368.8 L210.1 365.4 L209.1 361.9 L208.0 358.5 L207.0 355.0 L206.0 351.6 L205.1 348.2 L204.1 344.7 L203.2 341.3 L202.3 337.8 L201.4 334.4 L200.5 331.0 L199.6 327.5 L198.8 324.1 L197.9 320.6 L197.1 317.2 L196.3 313.8 L195.5 310.3 L194.8 306.9 L194.0 303.4 L193.3 300.0 L192.6 296.6 L191.9 293.1 L191.2 289.7 L190.5 286.2 L189.9 282.8 L189.3 279.4 L188.7 275.9 L188.1 272.5 L187.5 269.0 L186.9 265.6 L186.3 262.2 L185.8 258.7 L185.3 255.3 L184.8 251.8 L184.3 248.4 L183.8 244.9 L183.3 241.5 L182.9 238.1 L182.4 234.6 L182.0 231.2 L181.5 227.7 L181.1 224.3 L180.7 220.9 L180.3 217.4 L179.9 214.0 L179.6 210.5 L179.2 207.1 L178.8 203.7 L178.5 200.2 L178.1 196.8 L177.8 193.3 L177.5 189.9 L177.1 186.5 L176.8 183.0 L176.5 179.6 L176.2 176.1 L175.9 172.7 L175.6 169.3 L175.3 165.8 L175.0 162.4 L174.7 158.9 L174.5 155.5 L174.2 152.1 L173.9 148.6 L173.7 145.2 L173.4 141.7 L173.1 138.3 L172.9 134.8 L172.6 131.4 L172.4 128.0 L172.1 124.5 L171.9 121.1 L171.6 117.6 L171.4 114.2 L171.2 110.8 L170.9 107.3 L170.7 103.9 L170.5 100.4 L170.2 97.0 L170.0 93.6 L169.8 90.1 L169.6 86.7 L169.3 83.2 L169.1 79.8" fill="none" stroke="#00b050" stroke-opacity="0.53" stroke-width="4.0" stroke-linejoin="round" stroke-linecap="round"/>
<path d="M1006.5 630.3 L980.4 626.9 L954.8 623.4 L929.7 620.0 L905.1 616.5 L881.1 613.1 L857.8 609.7 L835.3 606.2 L813.4 602.8 L792.4 599.3 L772.2 595.9 L752.7 592.5 L733.9 589.0 L715.6 585.6 L698.0 582.1 L680.9 578.7 L664.3 575.2 L648.2 571.8 L632.4 568.4 L617.2 564.9 L602.4 561.5 L588.2 558.0 L574.5 554.6 L561.3 551.2 L548.7 547.7 L536.6 544.3 L525.1 540.8 L514.2 537.4 L503.8 534.0 L494.0 530.5 L484.7 527.1 L475.9 523.6 L467.5 520.2 L459.5 516.8 L451.7 513.3 L444.3 509.9 L437.0 506.4 L430.0 503.0 L423.1 499.6 L416.4 496.1 L409.7 492.7 L403.2 489.2 L396.7 485.8 L390.2 482.4 L383.8 478.9 L377.4 475.5 L371.2 472.0 L365.1 468.6 L359.1 465.1 L353.3 461.7 L347.7 458.3 L342.3 454.8 L337.1 451.4 L332.2 447.9 L327.5 444.5 L323.0 441.1 L318.7 437.6 L314.7 434.2 L311.0 430.7 L307.5 427.3 L304.2 423.9 L301.0 420.4 L298.1 417.0 L295.3 413.5 L292.6 410.1 L290.0 406.7 L287.6 403.2 L285.2 399.8 L282.9 396.3 L280.7 392.9 L278.6 389.5 L276.5 386.0 L274.4 382.6 L272.4 379.1 L270.3 375.7 L268.3 372.3 L266.4 368.8 L264.4 365.4 L262.5 361.9 L260.5 358.5 L258.7 355.0 L256.8 351.6 L255.0 348.2 L253.2 344.7 L251.4 341.3 L249.7 337.8 L248.0 334.4 L246.3 331.0 L244.7 327.5 L243.2 324.1 L241.6 320.6 L240.1 317.2 L238.7 313.8 L237.2 310.3 L235.9 306.9 L234.5 303.4 L233.2 300.0 L232.0 296.6 L230.8 293.1 L229.6 289.7 L228.5 286.2 L227.4 282.8 L226.3 279.4 L225.3 275.9 L224.3 272.5 L223.3 269.0 L222.4 265.6 L221.4 262.2 L220.5 258.7 L219.7 255.3 L218.8 251.8 L218.0 248.4 L217.2 244.9 L216.4 241.5 L215.6 238.1 L214.9 234.6 L214.1 231.2 L213.4 227.7 L212.7 224.3 L212.0 220.9 L211.3 217.4 L210.6 214.0 L209.9 210.5 L209.3 207.1 L208.6 203.7 L208.0 200.2 L207.3 196.8 L206.7 193.3 L206.1 189.9 L205.5 186.5 L204.9 183.0 L204.2 179.6 L203.7 176.1 L203.1 172.7 L202.5 169.3 L201.9 165.8 L201.3 162.4 L200.8 158.9 L200.2 155.5 L199.7 152.1 L199.1 148.6 L198.6 145.2 L198.1 141.7 L197.6 138.3 L197.1 134.8 L196.5 131.4 L196.1 128.0 L195.6 124.5 L195.1 121.1 L194.6 117.6 L194.1 114.2 L193.7 110.8 L193.2 107.3 L192.8 103.9 L192.3 100.4 L191.9 97.0 L191.4 93.6 L191.0 90.1 L190.6 86.7 L190.2 83.2 L189.8 79.8" fill="none" stroke="#7f7f7f" stroke-opacity="0.53" stroke-width="4.0" stroke-linejoin="round" stroke-linecap="round"/>
<path d="M1006.5 630.3 L988.0 626.9 L969.7 623.4 L951.7 620.0 L934.0 616.5 L916.5 613.1 L899.2 609.7 L882.3 606.2 L865.8 602.8 L849.5 599.3 L833.7 595.9 L818.2 592.5 L803.1 589.0 L788.5 585.6 L774.2 582.1 L760.3 578.7 L746.7 575.2 L733.5 571.8 L720.5 568.4 L707.9 564.9 L695.5 561.5 L683.4 558.0 L671.6 554.6 L660.0 551.2 L648.6 547.7 L637.5 544.3 L626.5 540.8 L615.8 537.4 L605.4 534.0 L595.2 530.5 L585.2 527.1 L575.6 523.6 L566.1 520.2 L557.0 516.8 L548.2 513.3 L539.6 509.9 L531.3 506.4 L523.3 503.0 L515.6 499.6 L508.1 496.1 L501.0 492.7 L494.1 489.2 L487.5 485.8 L481.1 482.4 L474.9 478.9 L469.0 475.5 L463.2 472.0 L457.6 468.6 L452.2 465.1 L446.9 461.7 L441.7 458.3 L436.6 454.8 L431.6 451.4 L426.7 447.9 L421.9 444.5 L417.1 441.1 L412.4 437.6 L407.7 434.2 L403.1 430.7 L398.5 427.3 L393.9 423.9 L389.3 420.4 L384.8 417.0 L380.3 413.5 L375.8 410.1 L371.4 406.7 L367.1 403.2 L362.8 399.8 L358.6 396.3 L354.5 392.9 L350.5 389.5 L346.6 386.0 L342.8 382.6 L339.1 379.1 L335.5 375.7 L332.0 372.3 L328.7 368.8 L325.4 365.4 L322.3 361.9 L319.3 358.5 L316.4 355.0 L313.7 351.6 L311.1 348.2 L308.5 344.7 L306.1 341.3 L303.8 337.8 L301.6 334.4 L299.5 331.0 L297.4 327.5 L295.5 324.1 L293.5 320.6 L291.7 317.2 L289.9 313.8 L288.2 310.3 L286.5 306.9 L284.8 303.4 L283.2 300.0 L281.6 296.6 L280.1 293.1 L278.6 289.7 L277.1 286.2 L275.6 282.8 L274.2 279.4 L272.7 275.9 L271.3 272.5 L269.9 269.0 L268.4 265.6 L267.0 262.2 L265.6 258.7 L264.3 255.3 L262.9 251.8 L261.5 248.4 L260.2 244.9 L258.8 241.5 L257.5 238.1 L256.2 234.6 L254.9 231.2 L253.7 227.7 L252.4 224.3 L251.2 220.9 L249.9 217.4 L248.7 214.0 L247.6 210.5 L246.4 207.1 L245.2 203.7 L244.1 200.2 L243.0 196.8 L241.9 193.3 L240.8 189.9 L239.8 186.5 L238.8 183.0 L237.8 179.6 L236.8 176.1 L235.8 172.7 L234.8 169.3 L233.9 165.8 L233.0 162.4 L232.1 158.9 L231.3 155.5 L230.4 152.1 L229.6 148.6 L228.8 145.2 L228.0 141.7 L227.2 138.3 L226.5 134.8 L225.8 131.4 L225.0 128.0 L224.3 124.5 L223.6 121.1 L223.0 117.6 L222.3 114.2 L221.6 110.8 L221.0 107.3 L220.4 103.9 L219.8 100.4 L219.2 97.0 L218.6 93.6 L218.0 90.1 L217.4 86.7 L216.8 83.2 L216.3 79.8" fill="none" stroke="#ffc000" stroke-opacity="0.53" stroke-width="4.0" stroke-linejoin="round" stroke-linecap="round"/>
<path d="M1006.5 621.3L1015.5 630.3L1006.5 639.2L997.5 630.3Z" fill="#fff" stroke="#5b9bd5" stroke-width="3.5"/>
<path d="M826.2 607.6L835.2 616.5L826.2 625.5L817.3 616.5Z" fill="#fff" stroke="#5b9bd5" stroke-width="3.5"/>
<path d="M658.0 593.8L666.9 602.8L658.0 611.7L649.0 602.8Z" fill="#fff" stroke="#5b9bd5" stroke-width="3.5"/>
<path d="M511.5 580.1L520.4 589.0L511.5 598.0L502.5 589.0Z" fill="#fff" stroke="#5b9bd5" stroke-width="3.5"/>
<path d="M392.4 566.3L401.4 575.2L392.4 584.2L383.5 575.2Z" fill="#fff" stroke="#5b9bd5" stroke-width="3.5"/>
<path d="M302.1 552.5L311.1 561.5L302.1 570.4L293.2 561.5Z" fill="#fff" stroke="#5b9bd5" stroke-width="3.5"/>
<path d="M238.2 538.8L247.1 547.7L238.2 556.7L229.2 547.7Z" fill="#fff" stroke="#5b9bd5" stroke-width="3.5"/>
<path d="M196.0 525.0L204.9 534.0L196.0 542.9L187.0 534.0Z" fill="#fff" stroke="#5b9bd5" stroke-width="3.5"/>
<path d="M170.0 511.2L178.9 520.2L170.0 529.1L161.0 520.2Z" fill="#fff" stroke="#5b9bd5" stroke-width="3.5"/>
<path d="M155.0 497.5L163.9 506.4L155.0 515.4L146.0 506.4Z" fill="#fff" stroke="#5b9bd5" stroke-width="3.5"/>
<path d="M147.0 483.7L155.9 492.7L147.0 501.6L138.0 492.7Z" fill="#fff" stroke="#5b9bd5" stroke-width="3.5"/>
<path d="M142.9 470.0L151.9 478.9L142.9 487.9L134.0 478.9Z" fill="#fff" stroke="#5b9bd5" stroke-width="3.5"/>
<path d="M141.0 456.2L150.0 465.1L141.0 474.1L132.1 465.1Z" fill="#fff" stroke="#5b9bd5" stroke-width="3.5"/>
<path d="M140.2 442.4L149.2 451.4L140.2 460.3L131.3 451.4Z" fill="#fff" stroke="#5b9bd5" stroke-width="3.5"/>
<path d="M139.9 428.7L148.8 437.6L139.9 446.6L130.9 437.6Z" fill="#fff" stroke="#5b9bd5" stroke-width="3.5"/>
<path d="M139.8 414.9L148.7 423.9L139.8 432.8L130.8 423.9Z" fill="#fff" stroke="#5b9bd5" stroke-width="3.5"/>
<path d="M139.7 401.1L148.7 410.1L139.7 419.0L130.8 410.1Z" fill="#fff" stroke="#5b9bd5" stroke-width="3.5"/>
<path d="M139.7 387.4L148.7 396.3L139.7 405.3L130.8 396.3Z" fill="#fff" stroke="#5b9bd5" stroke-width="3.5"/>
<path d="M139.7 373.6L148.7 382.6L139.7 391.5L130.8 382.6Z" fill="#fff" stroke="#5b9bd5" stroke-width="3.5"/>
<path d="M139.7 359.9L148.7 368.8L139.7 377.8L130.8 368.8Z" fill="#fff" stroke="#5b9bd5" stroke-width="3.5"/>
<path d="M139.7 346.1L148.7 355.0L139.7 364.0L130.8 355.0Z" fill="#fff" stroke="#5b9bd5" stroke-width="3.5"/>
<path d="M139.7 332.3L148.7 341.3L139.7 350.2L130.8 341.3Z" fill="#fff" stroke="#5b9bd5" stroke-width="3.5"/>
<path d="M139.7 318.6L148.7 327.5L139.7 336.5L130.8 327.5Z" fill="#fff" stroke="#5b9bd5" stroke-width="3.5"/>
<path d="M139.7 304.8L148.7 313.8L139.7 322.7L130.8 313.8Z" fill="#fff" stroke="#5b9bd5" stroke-width="3.5"/>
<path d="M139.7 291.0L148.7 300.0L139.7 308.9L130.8 300.0Z" fill="#fff" stroke="#5b9bd5" stroke-width="3.5"/>
<path d="M139.7 277.3L148.7 286.2L139.7 295.2L130.8 286.2Z" fill="#fff" stroke="#5b9bd5" stroke-width="3.5"/>
<path d="M139.7 263.5L148.7 272.5L139.7 281.4L130.8 272.5Z" fill="#fff" stroke="#5b9bd5" stroke-width="3.5"/>
<path d="M139.7 249.8L148.7 258.7L139.7 267.7L130.8 258.7Z" fill="#fff" stroke="#5b9bd5" stroke-width="3.5"/>
<path d="M139.7 236.0L148.7 244.9L139.7 253.9L130.8 244.9Z" fill="#fff" stroke="#5b9bd5" stroke-width="3.5"/>
<path d="M139.7 222.2L148.7 231.2L139.7 240.1L130.8 231.2Z" fill="#fff" stroke="#5b9bd5" stroke-width="3.5"/>
<path d="M139.7 208.5L148.7 217.4L139.7 226.4L130.8 217.4Z" fill="#fff" stroke="#5b9bd5" stroke-width="3.5"/>
<path d="M139.7 194.7L148.7 203.7L139.7 212.6L130.8 203.7Z" fill="#fff" stroke="#5b9bd5" stroke-width="3.5"/>
<path d="M139.7 180.9L148.7 189.9L139.7 198.8L130.8 189.9Z" fill="#fff" stroke="#5b9bd5" stroke-width="3.5"/>
<path d="M139.7 167.2L148.6 176.1L139.7 185.1L130.8 176.1Z" fill="#fff" stroke="#5b9bd5" stroke-width="3.5"/>
<path d="M139.7 153.4L148.6 162.4L139.7 171.3L130.8 162.4Z" fill="#fff" stroke="#5b9bd5" stroke-width="3.5"/>
<path d="M139.7 139.7L148.6 148.6L139.7 157.6L130.8 148.6Z" fill="#fff" stroke="#5b9bd5" stroke-width="3.5"/>
<path d="M139.7 125.9L148.6 134.8L139.7 143.8L130.8 134.8Z" fill="#fff" stroke="#5b9bd5" stroke-width="3.5"/>
<path d="M139.7 112.1L148.6 121.1L139.7 130.0L130.8 121.1Z" fill="#fff" stroke="#5b9bd5" stroke-width="3.5"/>
<path d="M139.7 98.4L148.6 107.3L139.7 116.3L130.8 107.3Z" fill="#fff" stroke="#5b9bd5" stroke-width="3.5"/>
<path d="M139.7 84.6L148.6 93.6L139.7 102.5L130.8 93.6Z" fill="#fff" stroke="#5b9bd5" stroke-width="3.5"/>
<path d="M139.7 70.8L148.6 79.8L139.7 88.7L130.8 79.8Z" fill="#fff" stroke="#5b9bd5" stroke-width="3.5"/>
<rect x="997.4" y="621.2" width="18.2" height="18.2" fill="#fff" stroke="#00b050" stroke-width="4.1" stroke-linejoin="round"/>
<rect x="869.2" y="607.4" width="18.2" height="18.2" fill="#fff" stroke="#00b050" stroke-width="4.1" stroke-linejoin="round"/>
<rect x="745.3" y="593.7" width="18.2" height="18.2" fill="#fff" stroke="#00b050" stroke-width="4.1" stroke-linejoin="round"/>
<rect x="629.8" y="579.9" width="18.2" height="18.2" fill="#fff" stroke="#00b050" stroke-width="4.1" stroke-linejoin="round"/>
<rect x="525.7" y="566.1" width="18.2" height="18.2" fill="#fff" stroke="#00b050" stroke-width="4.1" stroke-linejoin="round"/>
<rect x="435.0" y="552.4" width="18.2" height="18.2" fill="#fff" stroke="#00b050" stroke-width="4.1" stroke-linejoin="round"/>
<rect x="358.8" y="538.6" width="18.2" height="18.2" fill="#fff" stroke="#00b050" stroke-width="4.1" stroke-linejoin="round"/>
<rect x="296.9" y="524.9" width="18.2" height="18.2" fill="#fff" stroke="#00b050" stroke-width="4.1" stroke-linejoin="round"/>
<rect x="248.3" y="511.1" width="18.2" height="18.2" fill="#fff" stroke="#00b050" stroke-width="4.1" stroke-linejoin="round"/>
<rect x="211.5" y="497.3" width="18.2" height="18.2" fill="#fff" stroke="#00b050" stroke-width="4.1" stroke-linejoin="round"/>
<rect x="184.6" y="483.6" width="18.2" height="18.2" fill="#fff" stroke="#00b050" stroke-width="4.1" stroke-linejoin="round"/>
<rect x="165.5" y="469.8" width="18.2" height="18.2" fill="#fff" stroke="#00b050" stroke-width="4.1" stroke-linejoin="round"/>
<rect x="152.5" y="456.0" width="18.2" height="18.2" fill="#fff" stroke="#00b050" stroke-width="4.1" stroke-linejoin="round"/>
<rect x="143.9" y="442.3" width="18.2" height="18.2" fill="#fff" stroke="#00b050" stroke-width="4.1" stroke-linejoin="round"/>
<rect x="138.4" y="428.5" width="18.2" height="18.2" fill="#fff" stroke="#00b050" stroke-width="4.1" stroke-linejoin="round"/>
<rect x="135.1" y="414.8" width="18.2" height="18.2" fill="#fff" stroke="#00b050" stroke-width="4.1" stroke-linejoin="round"/>
<rect x="133.1" y="401.0" width="18.2" height="18.2" fill="#fff" stroke="#00b050" stroke-width="4.1" stroke-linejoin="round"/>
<rect x="131.9" y="387.2" width="18.2" height="18.2" fill="#fff" stroke="#00b050" stroke-width="4.1" stroke-linejoin="round"/>
<rect x="131.3" y="373.5" width="18.2" height="18.2" fill="#fff" stroke="#00b050" stroke-width="4.1" stroke-linejoin="round"/>
<rect x="130.9" y="359.7" width="18.2" height="18.2" fill="#fff" stroke="#00b050" stroke-width="4.1" stroke-linejoin="round"/>
<rect x="130.8" y="345.9" width="18.2" height="18.2" fill="#fff" stroke="#00b050" stroke-width="4.1" stroke-linejoin="round"/>
<rect x="130.7" y="332.2" width="18.2" height="18.2" fill="#fff" stroke="#00b050" stroke-width="4.1" stroke-linejoin="round"/>
<rect x="130.6" y="318.4" width="18.2" height="18.2" fill="#fff" stroke="#00b050" stroke-width="4.1" stroke-linejoin="round"/>
<rect x="130.6" y="304.7" width="18.2" height="18.2" fill="#fff" stroke="#00b050" stroke-width="4.1" stroke-linejoin="round"/>
<rect x="130.6" y="290.9" width="18.2" height="18.2" fill="#fff" stroke="#00b050" stroke-width="4.1" stroke-linejoin="round"/>
<rect x="130.6" y="277.1" width="18.2" height="18.2" fill="#fff" stroke="#00b050" stroke-width="4.1" stroke-linejoin="round"/>
<rect x="130.6" y="263.4" width="18.2" height="18.2" fill="#fff" stroke="#00b050" stroke-width="4.1" stroke-linejoin="round"/>
<rect x="130.6" y="249.6" width="18.2" height="18.2" fill="#fff" stroke="#00b050" stroke-width="4.1" stroke-linejoin="round"/>
<rect x="130.6" y="235.8" width="18.2" height="18.2" fill="#fff" stroke="#00b050" stroke-width="4.1" stroke-linejoin="round"/>
<rect x="130.6" y="222.1" width="18.2" height="18.2" fill="#fff" stroke="#00b050" stroke-width="4.1" stroke-linejoin="round"/>
<rect x="130.6" y="208.3" width="18.2" height="18.2" fill="#fff" stroke="#00b050" stroke-width="4.1" stroke-linejoin="round"/>
<rect x="130.6" y="194.6" width="18.2" height="18.2" fill="#fff" stroke="#00b050" stroke-width="4.1" stroke-linejoin="round"/>
<rect x="130.6" y="180.8" width="18.2" height="18.2" fill="#fff" stroke="#00b050" stroke-width="4.1" stroke-linejoin="round"/>
<rect x="130.6" y="167.0" width="18.2" height="18.2" fill="#fff" stroke="#00b050" stroke-width="4.1" stroke-linejoin="round"/>
<rect x="130.6" y="153.3" width="18.2" height="18.2" fill="#fff" stroke="#00b050" stroke-width="4.1" stroke-linejoin="round"/>
<rect x="130.6" y="139.5" width="18.2" height="18.2" fill="#fff" stroke="#00b050" stroke-width="4.1" stroke-linejoin="round"/>
<rect x="130.6" y="125.7" width="18.2" height="18.2" fill="#fff" stroke="#00b050" stroke-width="4.1" stroke-linejoin="round"/>
<rect x="130.6" y="112.0" width="18.2" height="18.2" fill="#fff" stroke="#00b050" stroke-width="4.1" stroke-linejoin="round"/>
<rect x="130.6" y="98.2" width="18.2" height="18.2" fill="#fff" stroke="#00b050" stroke-width="4.1" stroke-linejoin="round"/>
<rect x="130.6" y="84.5" width="18.2" height="18.2" fill="#fff" stroke="#00b050" stroke-width="4.1" stroke-linejoin="round"/>
<rect x="130.6" y="70.7" width="18.2" height="18.2" fill="#fff" stroke="#00b050" stroke-width="4.1" stroke-linejoin="round"/>
<path d="M1006.5 621.2L1015.8 639.3L997.2 639.3Z" fill="#fff" stroke="#a5a5a5" stroke-width="3.8" stroke-linejoin="round"/>
<path d="M925.1 607.4L934.4 625.5L915.9 625.5Z" fill="#fff" stroke="#a5a5a5" stroke-width="3.8" stroke-linejoin="round"/>
<path d="M844.9 593.7L854.1 611.8L835.6 611.8Z" fill="#fff" stroke="#a5a5a5" stroke-width="3.8" stroke-linejoin="round"/>
<path d="M766.8 579.9L776.1 598.0L757.6 598.0Z" fill="#fff" stroke="#a5a5a5" stroke-width="3.8" stroke-linejoin="round"/>
<path d="M692.0 566.1L701.2 584.2L682.7 584.2Z" fill="#fff" stroke="#a5a5a5" stroke-width="3.8" stroke-linejoin="round"/>
<path d="M621.2 552.4L630.4 570.5L611.9 570.5Z" fill="#fff" stroke="#a5a5a5" stroke-width="3.8" stroke-linejoin="round"/>
<path d="M555.1 538.6L564.3 556.7L545.8 556.7Z" fill="#fff" stroke="#a5a5a5" stroke-width="3.8" stroke-linejoin="round"/>
<path d="M494.3 524.9L503.6 543.0L485.1 543.0Z" fill="#fff" stroke="#a5a5a5" stroke-width="3.8" stroke-linejoin="round"/>
<path d="M439.2 511.1L448.4 529.2L429.9 529.2Z" fill="#fff" stroke="#a5a5a5" stroke-width="3.8" stroke-linejoin="round"/>
<path d="M389.8 497.3L399.1 515.4L380.6 515.4Z" fill="#fff" stroke="#a5a5a5" stroke-width="3.8" stroke-linejoin="round"/>
<path d="M346.3 483.6L355.5 501.7L337.0 501.7Z" fill="#fff" stroke="#a5a5a5" stroke-width="3.8" stroke-linejoin="round"/>
<path d="M308.4 469.8L317.6 487.9L299.1 487.9Z" fill="#fff" stroke="#a5a5a5" stroke-width="3.8" stroke-linejoin="round"/>
<path d="M275.8 456.0L285.1 474.1L266.6 474.1Z" fill="#fff" stroke="#a5a5a5" stroke-width="3.8" stroke-linejoin="round"/>
<path d="M248.3 442.3L257.5 460.4L239.0 460.4Z" fill="#fff" stroke="#a5a5a5" stroke-width="3.8" stroke-linejoin="round"/>
<path d="M225.3 428.5L234.5 446.6L216.0 446.6Z" fill="#fff" stroke="#a5a5a5" stroke-width="3.8" stroke-linejoin="round"/>
<path d="M206.4 414.8L215.6 432.9L197.1 432.9Z" fill="#fff" stroke="#a5a5a5" stroke-width="3.8" stroke-linejoin="round"/>
<path d="M191.0 401.0L200.3 419.1L181.8 419.1Z" fill="#fff" stroke="#a5a5a5" stroke-width="3.8" stroke-linejoin="round"/>
<path d="M178.7 387.2L188.0 405.3L169.5 405.3Z" fill="#fff" stroke="#a5a5a5" stroke-width="3.8" stroke-linejoin="round"/>
<path d="M169.0 373.5L178.2 391.6L159.7 391.6Z" fill="#fff" stroke="#a5a5a5" stroke-width="3.8" stroke-linejoin="round"/>
<path d="M161.4 359.7L170.7 377.8L152.2 377.8Z" fill="#fff" stroke="#a5a5a5" stroke-width="3.8" stroke-linejoin="round"/>
<path d="M155.6 345.9L164.9 364.0L146.4 364.0Z" fill="#fff" stroke="#a5a5a5" stroke-width="3.8" stroke-linejoin="round"/>
<path d="M151.2 332.2L160.5 350.3L142.0 350.3Z" fill="#fff" stroke="#a5a5a5" stroke-width="3.8" stroke-linejoin="round"/>
<path d="M147.9 318.4L157.2 336.5L138.7 336.5Z" fill="#fff" stroke="#a5a5a5" stroke-width="3.8" stroke-linejoin="round"/>
<path d="M145.5 304.7L154.7 322.8L136.2 322.8Z" fill="#fff" stroke="#a5a5a5" stroke-width="3.8" stroke-linejoin="round"/>
<path d="M143.7 290.9L153.0 309.0L134.5 309.0Z" fill="#fff" stroke="#a5a5a5" stroke-width="3.8" stroke-linejoin="round"/>
<path d="M142.5 277.1L151.7 295.2L133.2 295.2Z" fill="#fff" stroke="#a5a5a5" stroke-width="3.8" stroke-linejoin="round"/>
<path d="M141.6 263.4L150.8 281.5L132.3 281.5Z" fill="#fff" stroke="#a5a5a5" stroke-width="3.8" stroke-linejoin="round"/>
<path d="M141.0 249.6L150.2 267.7L131.7 267.7Z" fill="#fff" stroke="#a5a5a5" stroke-width="3.8" stroke-linejoin="round"/>
<path d="M140.5 235.8L149.8 253.9L131.3 253.9Z" fill="#fff" stroke="#a5a5a5" stroke-width="3.8" stroke-linejoin="round"/>
<path d="M140.2 222.1L149.5 240.2L131.0 240.2Z" fill="#fff" stroke="#a5a5a5" stroke-width="3.8" stroke-linejoin="round"/>
<path d="M140.0 208.3L149.3 226.4L130.8 226.4Z" fill="#fff" stroke="#a5a5a5" stroke-width="3.8" stroke-linejoin="round"/>
<path d="M139.9 194.6L149.2 212.7L130.7 212.7Z" fill="#fff" stroke="#a5a5a5" stroke-width="3.8" stroke-linejoin="round"/>
<path d="M139.8 180.8L149.1 198.9L130.6 198.9Z" fill="#fff" stroke="#a5a5a5" stroke-width="3.8" stroke-linejoin="round"/>
<path d="M139.8 167.0L149.0 185.1L130.5 185.1Z" fill="#fff" stroke="#a5a5a5" stroke-width="3.8" stroke-linejoin="round"/>
<path d="M139.8 153.3L149.0 171.4L130.5 171.4Z" fill="#fff" stroke="#a5a5a5" stroke-width="3.8" stroke-linejoin="round"/>
<path d="M139.7 139.5L149.0 157.6L130.5 157.6Z" fill="#fff" stroke="#a5a5a5" stroke-width="3.8" stroke-linejoin="round"/>
<path d="M139.7 125.7L149.0 143.8L130.5 143.8Z" fill="#fff" stroke="#a5a5a5" stroke-width="3.8" stroke-linejoin="round"/>
<path d="M139.7 112.0L149.0 130.1L130.5 130.1Z" fill="#fff" stroke="#a5a5a5" stroke-width="3.8" stroke-linejoin="round"/>
<path d="M139.7 98.2L149.0 116.3L130.5 116.3Z" fill="#fff" stroke="#a5a5a5" stroke-width="3.8" stroke-linejoin="round"/>
<path d="M139.7 84.5L149.0 102.6L130.5 102.6Z" fill="#fff" stroke="#a5a5a5" stroke-width="3.8" stroke-linejoin="round"/>
<path d="M139.7 70.7L149.0 88.8L130.5 88.8Z" fill="#fff" stroke="#a5a5a5" stroke-width="3.8" stroke-linejoin="round"/>
<circle cx="1006.5" cy="630.3" r="9.2" fill="none" stroke="#ffc000" stroke-width="4.0"/>
<circle cx="948.9" cy="616.5" r="9.2" fill="none" stroke="#ffc000" stroke-width="4.0"/>
<circle cx="891.7" cy="602.8" r="9.2" fill="none" stroke="#ffc000" stroke-width="4.0"/>
<circle cx="835.3" cy="589.0" r="9.2" fill="none" stroke="#ffc000" stroke-width="4.0"/>
<circle cx="780.0" cy="575.2" r="9.2" fill="none" stroke="#ffc000" stroke-width="4.0"/>
<circle cx="726.3" cy="561.5" r="9.2" fill="none" stroke="#ffc000" stroke-width="4.0"/>
<circle cx="674.4" cy="547.7" r="9.2" fill="none" stroke="#ffc000" stroke-width="4.0"/>
<circle cx="624.6" cy="534.0" r="9.2" fill="none" stroke="#ffc000" stroke-width="4.0"/>
<circle cx="577.2" cy="520.2" r="9.2" fill="none" stroke="#ffc000" stroke-width="4.0"/>
<circle cx="532.3" cy="506.4" r="9.2" fill="none" stroke="#ffc000" stroke-width="4.0"/>
<circle cx="490.2" cy="492.7" r="9.2" fill="none" stroke="#ffc000" stroke-width="4.0"/>
<circle cx="450.9" cy="478.9" r="9.2" fill="none" stroke="#ffc000" stroke-width="4.0"/>
<circle cx="414.5" cy="465.1" r="9.2" fill="none" stroke="#ffc000" stroke-width="4.0"/>
<circle cx="381.0" cy="451.4" r="9.2" fill="none" stroke="#ffc000" stroke-width="4.0"/>
<circle cx="350.4" cy="437.6" r="9.2" fill="none" stroke="#ffc000" stroke-width="4.0"/>
<circle cx="322.6" cy="423.9" r="9.2" fill="none" stroke="#ffc000" stroke-width="4.0"/>
<circle cx="297.6" cy="410.1" r="9.2" fill="none" stroke="#ffc000" stroke-width="4.0"/>
<circle cx="275.2" cy="396.3" r="9.2" fill="none" stroke="#ffc000" stroke-width="4.0"/>
<circle cx="255.3" cy="382.6" r="9.2" fill="none" stroke="#ffc000" stroke-width="4.0"/>
<circle cx="237.8" cy="368.8" r="9.2" fill="none" stroke="#ffc000" stroke-width="4.0"/>
<circle cx="222.4" cy="355.0" r="9.2" fill="none" stroke="#ffc000" stroke-width="4.0"/>
<circle cx="209.0" cy="341.3" r="9.2" fill="none" stroke="#ffc000" stroke-width="4.0"/>
<circle cx="197.4" cy="327.5" r="9.2" fill="none" stroke="#ffc000" stroke-width="4.0"/>
<circle cx="187.5" cy="313.8" r="9.2" fill="none" stroke="#ffc000" stroke-width="4.0"/>
<circle cx="179.0" cy="300.0" r="9.2" fill="none" stroke="#ffc000" stroke-width="4.0"/>
<circle cx="171.9" cy="286.2" r="9.2" fill="none" stroke="#ffc000" stroke-width="4.0"/>
<circle cx="165.8" cy="272.5" r="9.2" fill="none" stroke="#ffc000" stroke-width="4.0"/>
<circle cx="160.8" cy="258.7" r="9.2" fill="none" stroke="#ffc000" stroke-width="4.0"/>
<circle cx="156.6" cy="244.9" r="9.2" fill="none" stroke="#ffc000" stroke-width="4.0"/>
<circle cx="153.2" cy="231.2" r="9.2" fill="none" stroke="#ffc000" stroke-width="4.0"/>
<circle cx="150.4" cy="217.4" r="9.2" fill="none" stroke="#ffc000" stroke-width="4.0"/>
<circle cx="148.1" cy="203.7" r="9.2" fill="none" stroke="#ffc000" stroke-width="4.0"/>
<circle cx="146.3" cy="189.9" r="9.2" fill="none" stroke="#ffc000" stroke-width="4.0"/>
<circle cx="144.8" cy="176.1" r="9.2" fill="none" stroke="#ffc000" stroke-width="4.0"/>
<circle cx="143.7" cy="162.4" r="9.2" fill="none" stroke="#ffc000" stroke-width="4.0"/>
<circle cx="142.7" cy="148.6" r="9.2" fill="none" stroke="#ffc000" stroke-width="4.0"/>
<circle cx="142.0" cy="134.8" r="9.2" fill="none" stroke="#ffc000" stroke-width="4.0"/>
<circle cx="141.5" cy="121.1" r="9.2" fill="none" stroke="#ffc000" stroke-width="4.0"/>
<circle cx="141.0" cy="107.3" r="9.2" fill="none" stroke="#ffc000" stroke-width="4.0"/>
<circle cx="140.7" cy="93.6" r="9.2" fill="none" stroke="#ffc000" stroke-width="4.0"/>
<circle cx="140.4" cy="79.8" r="9.2" fill="none" stroke="#ffc000" stroke-width="4.0"/>
<text transform="translate(115.08,690.25) scale(1.0000,1)" font-family='"Liberation Sans", sans-serif' font-weight="bold" font-style="normal" font-size="35.45" fill="#595959" style="font-kerning:none">0.0</text>
<text transform="translate(288.43,690.25) scale(1.0000,1)" font-family='"Liberation Sans", sans-serif' font-weight="bold" font-style="normal" font-size="35.45" fill="#595959" style="font-kerning:none">0.2</text>
<text transform="translate(461.17,690.25) scale(1.0000,1)" font-family='"Liberation Sans", sans-serif' font-weight="bold" font-style="normal" font-size="35.45" fill="#595959" style="font-kerning:none">0.4</text>
<text transform="translate(635.08,690.25) scale(1.0000,1)" font-family='"Liberation Sans", sans-serif' font-weight="bold" font-style="normal" font-size="35.45" fill="#595959" style="font-kerning:none">0.6</text>
<text transform="translate(808.34,690.25) scale(1.0000,1)" font-family='"Liberation Sans", sans-serif' font-weight="bold" font-style="normal" font-size="35.45" fill="#595959" style="font-kerning:none">0.8</text>
<text transform="translate(981.47,690.25) scale(1.0000,1)" font-family='"Liberation Sans", sans-serif' font-weight="bold" font-style="normal" font-size="35.45" fill="#595959" style="font-kerning:none">1.0</text>
<text transform="translate(86.99,640.65) scale(1.0000,1)" font-family='"Liberation Sans", sans-serif' font-weight="bold" font-style="normal" font-size="35.73" fill="#595959" style="font-kerning:none">0</text>
<text transform="translate(85.15,530.90) scale(1.0000,1)" font-family='"Liberation Sans", sans-serif' font-weight="bold" font-style="normal" font-size="36.77" fill="#595959" style="font-kerning:none">4</text>
<text transform="translate(86.63,420.45) scale(1.0000,1)" font-family='"Liberation Sans", sans-serif' font-weight="bold" font-style="normal" font-size="35.73" fill="#595959" style="font-kerning:none">8</text>
<text transform="translate(66.55,310.70) scale(1.0000,1)" font-family='"Liberation Sans", sans-serif' font-weight="bold" font-style="normal" font-size="36.23" fill="#595959" style="font-kerning:none">12</text>
<text transform="translate(66.94,200.25) scale(1.0000,1)" font-family='"Liberation Sans", sans-serif' font-weight="bold" font-style="normal" font-size="35.73" fill="#595959" style="font-kerning:none">16</text>
<text transform="translate(67.12,90.15) scale(1.0000,1)" font-family='"Liberation Sans", sans-serif' font-weight="bold" font-style="normal" font-size="35.73" fill="#595959" style="font-kerning:none">20</text>
<g transform="translate(0,-1.1)">
<text transform="translate(530.91,706.88) scale(0.9813,1)" font-family='"Liberation Sans", sans-serif' font-weight="bold" font-style="normal" font-size="32.71" fill="#595959" style="font-kerning:none">u</text>
<text transform="translate(550.67,714.40) scale(0.9659,1)" font-family='"Liberation Sans", sans-serif' font-weight="bold" font-style="normal" font-size="21.80" fill="#595959" style="font-kerning:none">1</text>
<text transform="translate(562.87,710.95) scale(1.2721,1)" font-family='"Liberation Sans", sans-serif' font-weight="bold" font-style="normal" font-size="42.30" fill="#595959" style="font-kerning:none">/</text>
<text transform="translate(579.04,706.87) scale(0.9560,1)" font-family='"Liberation Sans", sans-serif' font-weight="bold" font-style="normal" font-size="34.11" fill="#595959" style="font-kerning:none">U</text>
<text transform="translate(601.65,714.69) scale(1.0949,1)" font-family='"Liberation Sans", sans-serif' font-weight="bold" font-style="normal" font-size="21.89" fill="#595959" style="font-kerning:none">0</text>
</g>
<g transform="translate(60.1,399.3) rotate(-90)">
<text transform="translate(-0.19,0.00) scale(0.8614,1)" font-family='"Liberation Sans", sans-serif' font-weight="bold" font-style="normal" font-size="32.56" fill="#595959" style="font-kerning:none">x</text>
<text transform="translate(16.86,8.70) scale(0.9515,1)" font-family='"Liberation Sans", sans-serif' font-weight="bold" font-style="normal" font-size="22.49" fill="#595959" style="font-kerning:none">2</text>
<text transform="translate(37.09,-0.39) scale(0.8180,1)" font-family='"Liberation Sans", sans-serif' font-weight="bold" font-style="normal" font-size="34.65" fill="#595959" style="font-kerning:none">(</text>
<text transform="translate(48.37,0.00) scale(1.0390,1)" font-family='"Liberation Sans", sans-serif' font-weight="bold" font-style="normal" font-size="32.49" fill="#595959" style="font-kerning:none">m</text>
<text transform="translate(79.47,-0.39) scale(0.7873,1)" font-family='"Liberation Sans", sans-serif' font-weight="bold" font-style="normal" font-size="34.65" fill="#595959" style="font-kerning:none">)</text>
</g>
<path d="M388.3 125.5L397.2 134.4L388.3 143.3L379.4 134.4Z" fill="#fff" stroke="#5b9bd5" stroke-width="3.5"/>
<line x1="359.4" y1="183.8" x2="417.2" y2="183.8" stroke="#0070c0" stroke-opacity="0.53" stroke-width="4.0" stroke-linecap="round"/>
<text transform="translate(423.20,145.26) scale(0.9472,1)" font-family='"Liberation Sans", sans-serif' font-weight="bold" font-style="normal" font-size="34.75" fill="#595959" style="font-kerning:none">0.1T</text>
<text transform="translate(423.20,194.97) scale(0.9669,1)" font-family='"Liberation Sans", sans-serif' font-weight="bold" font-style="normal" font-size="34.04" fill="#595959" style="font-kerning:none">0.1T</text>
<rect x="539.6" y="125.3" width="18.2" height="18.2" fill="#fff" stroke="#00b050" stroke-width="4.1" stroke-linejoin="round"/>
<line x1="519.8" y1="183.8" x2="577.6" y2="183.8" stroke="#00b050" stroke-opacity="0.53" stroke-width="4.0" stroke-linecap="round"/>
<text transform="translate(583.79,145.26) scale(0.9531,1)" font-family='"Liberation Sans", sans-serif' font-weight="bold" font-style="normal" font-size="34.75" fill="#595959" style="font-kerning:none">0.2T</text>
<text transform="translate(583.79,194.97) scale(0.9729,1)" font-family='"Liberation Sans", sans-serif' font-weight="bold" font-style="normal" font-size="34.04" fill="#595959" style="font-kerning:none">0.2T</text>
<path d="M709.4 125.3L718.6 143.4L700.1 143.4Z" fill="#fff" stroke="#a5a5a5" stroke-width="3.8" stroke-linejoin="round"/>
<line x1="680.5" y1="183.8" x2="738.3" y2="183.8" stroke="#7f7f7f" stroke-opacity="0.53" stroke-width="4.0" stroke-linecap="round"/>
<text transform="translate(744.61,145.26) scale(0.9413,1)" font-family='"Liberation Sans", sans-serif' font-weight="bold" font-style="normal" font-size="34.75" fill="#595959" style="font-kerning:none">0.5T</text>
<text transform="translate(744.61,194.97) scale(0.9608,1)" font-family='"Liberation Sans", sans-serif' font-weight="bold" font-style="normal" font-size="34.04" fill="#595959" style="font-kerning:none">0.5T</text>
<circle cx="869.5" cy="134.4" r="9.2" fill="none" stroke="#ffc000" stroke-width="4.0"/>
<line x1="840.6" y1="183.8" x2="898.4" y2="183.8" stroke="#ffc000" stroke-opacity="0.53" stroke-width="4.0" stroke-linecap="round"/>
<text transform="translate(904.64,144.90) scale(0.9550,1)" font-family='"Liberation Sans", sans-serif' font-weight="bold" font-style="normal" font-size="33.43" fill="#595959" style="font-kerning:none">T</text>
<text transform="translate(904.64,194.90) scale(0.9550,1)" font-family='"Liberation Sans", sans-serif' font-weight="bold" font-style="normal" font-size="33.43" fill="#595959" style="font-kerning:none">T</text>
<text transform="translate(286.84,137.67) scale(0.9003,1)" font-family='"Liberation Sans", sans-serif' font-weight="normal" font-style="normal" font-size="33.90" fill="#000" style="font-kerning:none">A.S.:</text>
<text transform="translate(286.71,185.70) scale(0.8243,1)" font-family='"Liberation Sans", sans-serif' font-weight="normal" font-style="normal" font-size="33.87" fill="#000" style="font-kerning:none">F.E.:</text>
</g>
<text transform="translate(-0.21,29.55) scale(1.0973,1)" font-family='"Liberation Serif", serif' font-weight="bold" font-style="normal" font-size="34.08" fill="#000" style="font-kerning:none">a)</text>
<text transform="translate(41.76,31.16) scale(1.0982,1)" font-family='"Liberation Serif", serif' font-weight="normal" font-style="italic" font-size="37.30" fill="#000" style="font-kerning:none">β</text>
<text transform="translate(108.72,31.69) scale(0.9857,1)" font-family='"Liberation Serif", serif' font-weight="normal" font-style="italic" font-size="40.05" fill="#000" style="font-kerning:none">α</text>
<rect x="74.4" y="15.0" width="22.9" height="2.7" fill="#000"/>
<rect x="74.4" y="22.5" width="22.9" height="2.7" fill="#000"/>
<rect x="141.7" y="15.0" width="22.4" height="2.7" fill="#000"/>
<rect x="141.7" y="22.5" width="22.4" height="2.7" fill="#000"/>
<text transform="translate(174.32,33.44) scale(0.9718,1)" font-family='"Liberation Serif", serif' font-weight="normal" font-style="normal" font-size="39.90" fill="#000" style="font-kerning:none">0.9</text>
<text transform="translate(20.51,756.59) scale(1.0857,1)" font-family='"Liberation Serif", serif' font-weight="bold" font-style="normal" font-size="35.29" fill="#000" style="font-kerning:none">b)</text>
<text transform="translate(65.96,757.98) scale(1.1067,1)" font-family='"Liberation Serif", serif' font-weight="normal" font-style="italic" font-size="37.19" fill="#000" style="font-kerning:none">β</text>
<text transform="translate(132.38,758.39) scale(1.0142,1)" font-family='"Liberation Serif", serif' font-weight="normal" font-style="italic" font-size="40.46" fill="#000" style="font-kerning:none">α</text>
<rect x="98.3" y="741.6" width="23.3" height="2.7" fill="#000"/>
<rect x="98.3" y="749.3" width="23.3" height="2.7" fill="#000"/>
<rect x="165.1" y="741.6" width="23.3" height="2.7" fill="#000"/>
<rect x="165.1" y="749.3" width="23.3" height="2.7" fill="#000"/>
<text transform="translate(200.33,757.66) scale(1.0104,1)" font-family='"Liberation Serif", serif' font-weight="normal" font-style="normal" font-size="38.28" fill="#000" style="font-kerning:none">0.8</text>
<text transform="translate(20.55,1483.60) scale(1.0640,1)" font-family='"Liberation Serif", serif' font-weight="bold" font-style="normal" font-size="34.30" fill="#000" style="font-kerning:none">c)</text>
<text transform="translate(59.56,1484.86) scale(1.1035,1)" font-family='"Liberation Serif", serif' font-weight="normal" font-style="italic" font-size="37.30" fill="#000" style="font-kerning:none">β</text>
<text transform="translate(126.62,1485.30) scale(1.0169,1)" font-family='"Liberation Serif", serif' font-weight="normal" font-style="italic" font-size="39.01" fill="#000" style="font-kerning:none">α</text>
<rect x="92.5" y="1469.2" width="22.7" height="2.6" fill="#000"/>
<rect x="92.5" y="1476.8" width="22.7" height="2.5" fill="#000"/>
<rect x="159.6" y="1469.2" width="22.6" height="2.6" fill="#000"/>
<rect x="159.6" y="1476.8" width="22.6" height="2.5" fill="#000"/>
<text transform="translate(193.73,1484.76) scale(1.0069,1)" font-family='"Liberation Serif", serif' font-weight="normal" font-style="normal" font-size="38.28" fill="#000" style="font-kerning:none">0.7</text>
</svg>
</body></html>
